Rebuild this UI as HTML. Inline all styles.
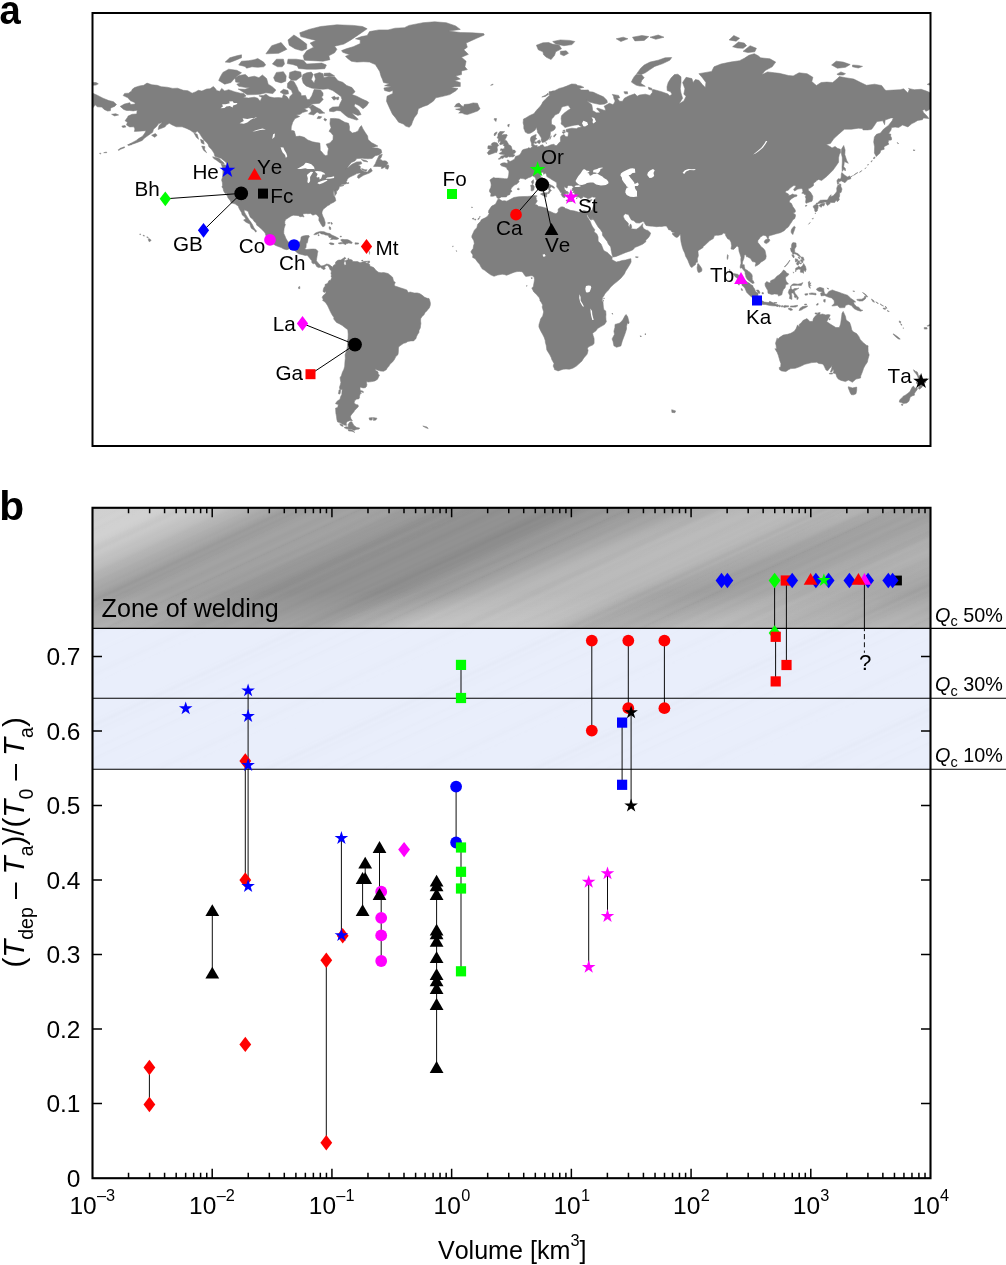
<!DOCTYPE html>
<html><head><meta charset="utf-8"><title>Figure</title>
<style>
html,body{margin:0;padding:0;background:#fff;}
svg{display:block;will-change:transform;}
text{font-family:"Liberation Sans", sans-serif;fill:#000;font-kerning:none;}
</style></head><body>
<svg width="1006" height="1265" viewBox="0 0 1006 1265">
<defs>
<clipPath id="mapclip"><rect x="92.5" y="13" width="838" height="433"/></clipPath>
<clipPath id="grayclip"><rect x="93" y="508" width="837" height="120.4"/></clipPath>
<clipPath id="blueclip"><rect x="93" y="628.4" width="837" height="140.9"/></clipPath>
<linearGradient id="gd" gradientUnits="userSpaceOnUse" x1="93" y1="508" x2="276.0" y2="919.1"><stop offset="0.0000" stop-color="#cfcfcf"/><stop offset="0.0622" stop-color="#d0d0d0"/><stop offset="0.1000" stop-color="#c6c6c6"/><stop offset="0.1289" stop-color="#b8b8b8"/><stop offset="0.1556" stop-color="#a8a8a8"/><stop offset="0.1889" stop-color="#9f9f9f"/><stop offset="0.2222" stop-color="#a0a0a0"/><stop offset="0.2556" stop-color="#a0a0a0"/><stop offset="0.2889" stop-color="#9b9b9b"/><stop offset="0.3556" stop-color="#969696"/><stop offset="0.4333" stop-color="#969696"/><stop offset="0.4778" stop-color="#9a9a9a"/><stop offset="0.5333" stop-color="#9e9e9e"/><stop offset="0.6000" stop-color="#a0a0a0"/><stop offset="0.6556" stop-color="#9e9e9e"/><stop offset="0.7111" stop-color="#9d9d9d"/><stop offset="0.7778" stop-color="#a0a0a0"/><stop offset="0.8556" stop-color="#a4a4a4"/><stop offset="0.9333" stop-color="#a6a6a6"/><stop offset="1.0000" stop-color="#a6a6a6"/></linearGradient>
<pattern id="streak" patternUnits="userSpaceOnUse" width="500" height="113" patternTransform="rotate(-25)"><rect x="0" y="0.0" width="500" height="1.8" fill="#fff" fill-opacity="0.054"/><rect x="0" y="3.3" width="500" height="5.0" fill="#fff" fill-opacity="0.041"/><rect x="0" y="10.8" width="500" height="1.8" fill="#fff" fill-opacity="0.043"/><rect x="0" y="13.1" width="500" height="1.3" fill="#000" fill-opacity="0.021"/><rect x="0" y="16.9" width="500" height="3.5" fill="#000" fill-opacity="0.044"/><rect x="0" y="23.4" width="500" height="1.8" fill="#000" fill-opacity="0.044"/><rect x="0" y="27.2" width="500" height="2.5" fill="#000" fill-opacity="0.016"/><rect x="0" y="30.2" width="500" height="0.8" fill="#fff" fill-opacity="0.024"/><rect x="0" y="32.9" width="500" height="5.0" fill="#fff" fill-opacity="0.036"/><rect x="0" y="39.8" width="500" height="1.0" fill="#000" fill-opacity="0.038"/><rect x="0" y="41.9" width="500" height="0.8" fill="#fff" fill-opacity="0.045"/><rect x="0" y="44.8" width="500" height="1.8" fill="#fff" fill-opacity="0.060"/><rect x="0" y="48.8" width="500" height="1.3" fill="#000" fill-opacity="0.049"/><rect x="0" y="51.2" width="500" height="0.8" fill="#fff" fill-opacity="0.040"/><rect x="0" y="53.4" width="500" height="5.0" fill="#fff" fill-opacity="0.028"/><rect x="0" y="61.2" width="500" height="5.0" fill="#fff" fill-opacity="0.046"/><rect x="0" y="67.1" width="500" height="0.8" fill="#000" fill-opacity="0.036"/><rect x="0" y="69.3" width="500" height="0.8" fill="#fff" fill-opacity="0.040"/><rect x="0" y="72.5" width="500" height="1.3" fill="#fff" fill-opacity="0.030"/><rect x="0" y="75.0" width="500" height="1.8" fill="#fff" fill-opacity="0.049"/><rect x="0" y="77.4" width="500" height="3.5" fill="#fff" fill-opacity="0.020"/><rect x="0" y="82.5" width="500" height="1.8" fill="#000" fill-opacity="0.023"/><rect x="0" y="85.1" width="500" height="2.5" fill="#000" fill-opacity="0.024"/><rect x="0" y="90.0" width="500" height="1.8" fill="#fff" fill-opacity="0.044"/><rect x="0" y="93.2" width="500" height="1.0" fill="#000" fill-opacity="0.015"/><rect x="0" y="95.3" width="500" height="0.8" fill="#fff" fill-opacity="0.024"/><rect x="0" y="99.1" width="500" height="2.5" fill="#fff" fill-opacity="0.044"/><rect x="0" y="102.0" width="500" height="1.0" fill="#fff" fill-opacity="0.025"/><rect x="0" y="103.3" width="500" height="2.5" fill="#fff" fill-opacity="0.030"/><rect x="0" y="107.1" width="500" height="0.8" fill="#000" fill-opacity="0.019"/><rect x="0" y="110.0" width="500" height="0.8" fill="#fff" fill-opacity="0.042"/><rect x="0" y="112.7" width="500" height="1.0" fill="#fff" fill-opacity="0.058"/></pattern>
<filter id="soft" x="0" y="0" width="1" height="1"><feGaussianBlur stdDeviation="0.8"/></filter>
<linearGradient id="gbot" x1="0" y1="0" x2="0" y2="1"><stop offset="0" stop-color="#fff" stop-opacity="0"/><stop offset="0.7" stop-color="#fff" stop-opacity="0"/><stop offset="1" stop-color="#fff" stop-opacity="0.16"/></linearGradient>
<filter id="blur12" x="-0.2" y="-0.5" width="1.4" height="2"><feGaussianBlur stdDeviation="14 8"/></filter>
</defs>

<text transform="translate(-0.4,23.6) scale(0.925,1)" x="0" y="0" font-size="41.3" font-weight="bold">a</text>
<g id="map" clip-path="url(#mapclip)">
<path d="M120.2 106.4L124.4 104.1L129.7 102.7L130.7 104.5L135.3 104.1L134.6 102.5L130.2 100.6L127.9 97.8L123.2 95.6L124.6 93.4L128.6 93.2L131.6 90.9L132.3 89.3L134.6 87.6L139.5 85.9L143.7 85.3L147.0 83.1L151.9 84.8L157.2 85.3L161.2 86.7L167.0 87.2L172.8 88.4L177.5 88.2L183.3 90.3L187.9 90.7L192.1 93.2L195.4 91.9L198.4 90.3L201.9 91.1L206.6 89.0L210.1 88.8L213.3 86.5L214.7 87.8L217.0 90.7L219.8 91.3L221.7 88.4L224.7 90.9L228.7 89.7L234.5 91.7L240.3 93.2L243.8 93.4L246.1 96.0L243.1 97.4L248.5 98.0L254.3 97.2L257.8 98.2L260.1 101.3L262.0 97.4L258.9 95.8L263.6 95.4L265.9 94.2L269.4 96.8L274.1 97.8L278.7 97.6L282.2 98.0L283.4 94.6L286.9 96.6L289.2 99.8L289.9 96.6L292.7 93.8L291.5 90.5L287.3 87.6L287.6 83.3L290.4 80.5L293.9 81.4L295.5 84.2L297.3 87.6L298.5 90.9L300.8 93.0L301.3 95.8L305.5 95.4L307.1 99.4L309.4 99.6L311.8 95.8L313.2 92.1L314.1 89.5L320.6 89.9L323.0 93.0L323.0 95.4L321.6 97.0L323.2 99.4L319.5 103.3L314.8 103.7L311.3 104.1L309.4 102.9L311.8 104.8L308.5 107.5L304.3 108.7L307.8 110.9L302.5 112.6L300.1 114.3L296.2 115.0L299.7 116.5L295.0 118.6L292.7 122.2L291.3 126.8L291.1 130.2L294.3 131.1L295.9 136.6L299.7 136.1L304.3 137.3L307.8 140.0L312.5 141.8L316.4 142.6L319.9 143.1L320.2 147.7L320.2 150.2L322.3 152.4L323.9 154.6L325.7 155.7L327.8 154.9L327.8 152.1L328.5 148.7L327.1 146.1L326.2 144.2L329.9 142.9L333.0 139.6L333.2 135.6L330.9 132.6L329.0 131.3L331.1 127.8L329.9 124.0L330.4 118.6L334.6 118.4L339.2 119.0L342.7 121.1L344.8 122.2L348.6 123.3L349.5 126.8L349.3 130.2L352.3 133.0L355.5 132.3L358.1 130.9L359.7 127.5L361.4 125.6L363.0 128.9L365.1 132.3L367.6 136.0L368.1 139.6L371.4 142.6L374.6 144.2L377.9 146.1L375.3 146.8L371.8 148.0L377.4 148.0L381.1 149.6L381.8 152.7L379.3 154.8L375.1 155.8L372.1 158.5L367.6 158.8L362.5 158.3L356.9 158.6L354.8 161.0L351.3 162.5L349.0 165.5L346.9 168.2L345.8 168.8L348.1 167.6L352.0 164.3L356.7 161.9L361.1 161.8L361.8 163.7L358.3 164.9L360.4 166.4L360.2 168.5L362.1 170.5L364.9 171.7L367.6 172.0L369.5 169.3L370.9 168.2L372.3 171.1L369.3 173.1L366.0 174.3L363.5 175.3L360.7 177.1L358.8 178.4L357.4 177.4L357.9 175.4L361.1 173.1L359.3 173.0L356.7 173.6L355.1 174.6L352.0 176.0L349.0 177.4L347.2 179.4L346.9 180.8L346.2 181.7L347.4 183.1L348.6 182.4L348.7 183.5L346.7 183.6L344.8 184.2L342.0 184.6L339.7 185.7L343.9 185.3L342.7 186.0L339.2 186.5L339.2 188.0L338.1 189.9L337.0 190.9L335.8 189.4L336.7 191.3L336.5 193.5L334.8 195.8L334.6 192.9L333.9 190.2L333.4 192.9L333.9 196.2L334.7 196.4L335.5 199.1L335.8 200.8L333.4 202.4L330.9 203.6L330.0 204.5L327.6 205.7L325.5 207.5L323.2 209.3L322.0 211.9L322.0 213.7L323.0 216.5L324.0 218.4L325.2 222.5L325.0 225.2L324.1 226.5L322.7 226.7L321.3 224.8L320.2 222.8L318.8 220.3L319.0 217.5L317.1 214.9L315.5 214.3L312.9 215.2L310.6 213.4L307.8 213.7L306.2 213.5L303.6 213.7L302.9 214.7L303.6 216.0L304.1 217.0L302.2 216.5L300.1 216.7L298.5 215.7L296.2 215.4L293.2 215.2L290.8 216.2L288.5 217.7L285.7 219.5L284.8 221.5L284.8 223.8L285.4 224.6L284.1 228.2L283.8 231.4L283.8 233.6L285.0 236.1L285.7 238.0L287.3 240.7L288.5 242.2L290.8 242.8L292.2 243.7L295.0 243.1L297.3 242.5L299.0 242.6L300.4 240.9L300.8 239.5L301.1 237.0L302.9 236.1L306.0 235.5L308.8 235.5L309.4 236.6L308.1 238.7L307.8 240.9L307.1 243.3L306.2 242.8L306.2 245.3L306.0 247.6L304.6 249.1L306.7 249.6L309.0 249.2L311.3 249.1L313.6 249.0L316.0 249.3L317.9 251.2L317.4 253.6L317.1 256.0L316.7 258.3L316.4 260.7L318.1 263.0L319.5 264.2L320.2 265.4L321.8 265.9L323.4 265.6L325.3 264.7L326.4 264.0L328.3 264.3L330.2 265.2L331.3 266.2L332.3 267.7L331.1 268.7L330.2 269.6L329.5 268.4L329.0 267.0L327.6 265.6L326.2 265.6L324.6 267.0L325.3 268.9L323.2 269.6L322.0 268.4L320.6 267.3L318.5 267.6L316.7 266.6L315.5 264.3L314.1 263.3L313.4 264.0L311.8 262.6L311.8 260.7L309.9 258.6L308.1 256.2L307.1 255.3L305.3 255.5L302.5 254.7L298.7 253.8L296.9 252.4L293.9 249.8L292.0 248.5L290.1 248.5L286.9 249.7L283.8 249.0L281.1 247.5L279.0 246.8L275.7 245.5L273.6 244.2L270.6 243.3L268.5 241.4L266.4 239.7L265.5 238.3L266.4 237.4L265.9 235.6L265.2 233.1L263.6 231.2L260.6 228.2L258.2 226.2L256.8 225.2L255.9 222.8L254.0 221.3L253.1 219.6L250.3 217.2L248.9 213.9L248.2 211.4L246.1 210.6L244.3 209.8L244.3 211.9L245.7 214.4L247.3 217.0L248.9 219.5L250.8 222.0L252.4 224.5L253.8 227.5L254.7 229.0L256.6 230.9L255.7 232.2L254.5 230.4L251.3 228.2L250.3 225.7L249.9 224.0L247.1 222.8L245.0 221.5L243.6 219.9L245.9 219.0L244.7 217.0L242.2 214.9L241.5 212.4L239.8 209.8L238.9 208.0L238.2 205.9L235.9 204.6L235.7 204.0L233.8 203.6L231.0 202.8L230.5 200.9L228.7 198.8L227.7 197.2L227.5 196.2L226.3 194.6L227.3 194.6L226.6 193.6L225.2 193.5L223.6 190.9L223.1 188.6L221.9 186.9L222.6 185.3L222.4 182.8L221.6 180.1L222.6 176.9L222.9 173.1L222.9 170.5L222.4 167.3L221.2 164.0L224.0 164.8L225.6 164.9L226.6 167.3L226.8 165.2L226.1 162.5L224.7 161.3L222.9 159.8L221.0 158.3L218.2 157.4L214.9 156.2L214.0 153.1L211.4 149.3L208.9 146.8L208.0 144.2L206.6 142.6L204.2 140.3L201.9 137.3L199.6 133.6L197.2 130.9L195.9 132.6L193.5 132.6L190.3 130.2L186.1 128.2L182.1 126.8L176.3 126.8L172.3 125.0L169.3 123.3L166.3 125.0L165.1 126.8L162.8 127.8L158.1 129.5L159.1 125.4L162.3 122.6L158.8 123.6L156.3 126.8L153.5 129.2L152.6 132.3L148.4 135.3L144.2 138.3L142.3 140.4L137.9 142.2L133.2 143.9L128.3 144.8L131.6 142.9L136.3 140.4L138.6 138.6L142.5 136.3L144.9 133.0L146.0 130.7L142.5 130.9L137.9 131.3L134.4 131.4L134.9 128.9L133.9 126.8L129.7 126.9L126.5 125.0L127.4 122.2L125.1 120.8L127.4 117.5L128.1 116.1L132.1 114.3L136.7 113.9L137.2 110.2L133.2 110.9L129.7 110.5L126.5 110.5L123.7 109.4L120.2 106.4ZM409.3 127.3L405.6 126.1L403.3 124.0L398.6 122.2L395.6 117.9L392.3 113.9L390.9 110.9L388.8 106.4L386.5 101.3L387.0 96.2L392.8 93.4L392.8 90.5L389.3 91.7L384.6 90.5L383.9 88.0L388.1 87.2L391.6 86.7L384.6 85.7L389.3 83.8L383.5 82.5L382.3 79.0L381.1 76.4L379.7 71.4L375.3 64.5L369.5 62.1L363.7 61.7L356.7 62.1L351.3 61.2L347.4 58.3L345.5 56.3L349.7 54.8L342.7 52.3L341.6 50.6L346.2 48.8L353.2 46.7L360.2 43.6L360.2 39.9L355.5 38.8L361.4 36.6L367.2 35.5L369.5 31.6L378.8 29.9L388.1 29.9L395.1 28.2L404.4 27.7L409.1 25.4L423.0 22.7L434.7 21.8L446.3 22.7L455.6 25.9L460.3 29.4L448.7 31.1L460.3 32.5L471.9 32.8L483.6 33.6L484.3 35.0L476.6 38.3L470.8 40.9L466.1 43.1L467.3 47.2L463.8 49.8L468.4 54.3L461.5 57.3L466.1 61.2L464.9 66.8L467.3 69.6L461.5 71.0L461.5 74.6L455.6 75.9L460.3 79.0L454.5 80.8L460.3 82.5L460.3 86.5L454.5 86.7L451.0 87.6L458.0 88.6L455.6 90.9L449.8 94.6L441.7 96.6L435.8 97.8L433.5 101.0L427.7 105.0L423.5 106.4L418.4 108.7L417.2 113.9L414.4 117.5L412.6 121.5L411.4 125.0L409.3 127.3ZM368.8 102.5L366.5 106.0L363.0 108.7L359.0 105.6L355.1 103.7L354.1 106.0L358.8 110.2L361.1 114.6L357.9 115.4L353.2 113.5L352.0 113.3L355.5 116.8L358.3 119.3L356.7 120.1L352.0 118.6L347.9 117.2L344.4 114.6L340.4 110.9L336.9 110.5L333.4 111.7L329.5 111.3L329.5 109.0L332.7 107.1L338.8 106.8L340.2 103.3L342.0 99.8L341.1 96.6L336.9 93.4L332.7 90.5L328.1 88.8L323.0 89.3L316.0 88.8L311.3 88.0L306.0 85.9L303.2 82.9L302.0 78.6L302.9 74.6L306.7 72.8L311.3 72.1L313.2 74.6L311.3 79.5L314.1 82.9L315.5 79.0L314.1 74.2L319.5 72.6L323.0 73.7L323.9 77.7L328.8 76.6L334.6 76.8L338.1 80.8L342.7 82.3L346.7 85.5L352.0 87.6L355.1 91.7L352.0 94.6L356.7 96.2L362.1 99.0L366.7 101.0L368.8 102.5ZM238.2 89.0L242.6 91.7L247.3 94.8L254.3 94.6L260.1 94.2L265.9 92.8L272.9 93.6L275.9 90.1L272.2 86.7L268.2 84.2L266.6 78.6L262.4 75.0L258.9 77.7L254.3 76.2L248.5 77.3L245.4 74.4L239.2 75.5L235.0 78.1L235.7 82.1L240.3 82.7L236.8 84.2L238.7 86.3L246.1 87.6L249.6 87.8L245.0 89.3L238.2 89.0ZM218.7 80.5L220.5 76.4L222.9 72.4L228.7 69.2L236.8 70.3L241.5 72.8L238.0 75.5L234.0 79.0L231.0 82.5L224.7 84.2L218.7 80.5ZM238.7 65.0L241.5 61.2L248.5 60.7L254.3 59.7L257.8 58.5L263.6 62.1L265.7 65.0L263.6 66.8L257.8 67.3L252.0 66.8L246.6 68.2L245.0 66.4L238.7 65.0ZM225.2 62.1L229.8 57.8L236.8 55.8L241.5 54.8L241.5 57.8L235.7 60.2L229.8 62.4L225.2 62.1ZM272.4 64.0L276.4 59.2L283.4 59.2L284.5 64.0L282.2 66.8L277.6 66.8L272.4 64.0ZM265.9 53.8L271.7 45.7L281.1 42.5L286.9 49.3L278.7 53.3L265.9 53.8ZM298.5 68.5L306.7 69.2L316.0 69.2L324.8 68.7L326.4 65.0L321.8 63.1L314.8 63.6L306.7 64.0L303.2 60.2L296.2 59.2L288.0 59.2L287.3 63.6L292.7 64.5L297.3 65.9L298.5 68.5ZM304.3 60.2L313.6 60.7L323.0 61.2L329.9 59.7L328.8 55.8L334.6 52.8L336.9 49.3L334.6 46.2L343.9 44.1L350.9 39.9L359.0 34.4L367.2 28.8L362.5 26.5L353.2 25.4L336.9 24.8L320.6 26.5L309.0 29.4L299.7 32.8L300.8 36.6L309.0 38.8L316.0 40.4L310.1 43.1L313.6 47.2L306.7 50.8L303.2 55.8L304.3 60.2ZM302.0 50.8L295.0 48.8L289.2 45.2L288.0 39.9L293.9 35.0L299.7 38.8L306.7 44.1L306.7 48.8L302.0 50.8ZM289.0 77.7L289.7 72.4L295.0 70.8L300.8 72.1L301.5 76.4L296.2 80.3L291.5 80.3L289.0 77.7ZM273.6 77.7L276.4 72.4L283.4 71.7L286.2 75.9L285.7 81.2L281.1 82.9L275.2 81.2L273.6 77.7ZM280.1 92.1L283.4 89.3L288.0 90.5L288.5 93.8L284.5 94.6L280.1 92.1ZM309.0 107.5L312.5 104.8L316.0 107.1L320.6 109.4L323.0 112.0L324.8 113.1L319.5 113.5L317.1 112.0L313.6 115.0L308.5 113.9L311.3 111.3L310.8 109.0L309.0 107.5ZM318.3 116.3L321.8 116.8L320.2 118.6L317.1 118.6L318.3 116.3ZM324.6 118.3L326.9 119.7L325.3 121.1L323.9 119.7L324.6 118.3ZM324.1 73.3L329.9 73.0L334.6 75.9L329.9 76.2L324.1 75.9L324.1 73.3ZM387.9 169.2L385.6 168.6L385.3 166.7L382.8 168.2L381.4 168.5L381.6 166.7L377.7 166.4L373.5 166.4L375.3 163.7L376.5 160.7L378.1 157.4L379.3 155.2L382.3 154.3L381.1 157.7L379.5 159.2L381.1 159.8L382.8 161.0L384.6 160.7L386.5 161.2L388.1 163.1L386.3 165.2L388.4 164.9L388.8 166.6L387.9 169.2ZM361.4 159.5L366.0 160.4L367.9 161.9L363.7 161.3L361.4 159.5ZM361.6 168.5L364.9 169.8L367.2 169.8L366.0 171.2L362.5 170.1L361.6 168.5ZM212.6 156.8L215.9 157.4L219.4 158.6L221.0 160.4L223.3 162.2L224.3 164.0L221.7 163.7L219.4 162.5L216.8 160.4L213.8 158.6L212.6 156.8ZM201.7 146.1L204.9 146.6L204.5 149.3L206.6 152.7L203.5 150.2L201.7 146.1ZM200.5 139.3L203.5 140.6L204.2 144.2L201.4 142.9L200.5 139.3ZM194.0 133.0L197.2 134.3L198.6 139.3L196.3 137.3L194.0 133.0ZM151.6 135.3L155.3 133.6L157.2 135.3L154.7 137.3L151.6 135.3ZM127.6 144.8L130.9 143.7L132.1 144.5L128.6 145.5L127.6 144.8ZM120.4 148.3L124.4 146.8L124.6 147.7L120.9 149.1L120.4 148.3ZM118.1 149.9L120.4 148.3L120.9 149.0L118.6 150.4L118.1 149.9ZM103.7 152.7L106.5 152.0L106.7 152.7L103.7 152.7ZM99.5 153.4L100.9 153.2L100.6 154.1L99.5 153.4ZM111.6 114.3L115.8 113.7L118.6 115.0L114.6 115.9L111.6 114.3ZM121.8 126.1L125.1 125.6L125.8 127.1L122.8 127.5L121.8 126.1ZM313.8 234.7L315.3 233.1L318.3 231.9L320.6 231.4L324.1 231.7L326.9 233.0L329.9 233.6L331.8 235.0L335.3 236.6L337.1 237.5L338.9 238.6L336.9 239.5L333.4 239.3L330.6 239.6L331.8 237.8L329.2 237.5L328.1 235.3L325.3 235.0L323.9 234.2L321.1 233.9L319.9 232.7L317.4 233.9L316.0 234.6L313.8 234.7ZM318.1 234.6L319.2 234.9L319.0 235.7L318.1 235.6L318.1 234.6ZM338.2 243.2L340.6 242.5L343.0 242.7L342.0 241.4L340.6 240.0L342.0 239.3L344.6 239.6L347.2 239.6L348.8 240.1L350.4 240.9L352.3 242.5L351.6 243.6L348.8 243.0L347.2 243.6L346.0 243.8L345.3 244.9L344.4 243.9L342.7 243.6L339.7 243.9L338.2 243.2ZM329.1 243.3L330.4 242.8L332.5 243.1L334.1 243.7L333.9 244.4L331.8 244.7L329.9 244.1L329.1 243.3ZM355.0 242.8L358.7 243.0L358.4 244.1L355.1 244.2L355.0 242.8ZM329.2 226.7L330.4 227.0L330.9 229.2L329.9 229.7L329.2 228.2L329.2 226.7ZM330.9 222.3L332.3 223.0L332.0 224.5L331.3 224.0L330.9 222.3ZM327.7 222.8L330.0 222.6L329.9 223.3L327.8 223.3L327.7 222.8ZM340.1 236.3L341.3 236.1L341.3 236.9L340.2 236.9L340.1 236.3ZM367.4 261.3L369.6 261.0L369.5 262.8L367.4 262.9L368.3 262.1L367.4 261.3ZM367.6 247.8L369.0 247.9L368.3 249.0L367.6 248.6L367.6 247.8ZM368.9 251.6L369.9 251.9L369.7 252.7L369.2 252.4L368.9 251.6ZM368.3 249.8L368.9 250.0L368.8 250.7L368.5 250.6L368.3 249.8ZM369.3 253.4L369.7 253.6L369.6 254.3L369.3 254.1L369.3 253.4ZM361.6 260.5L363.0 260.3L363.0 260.9L361.6 260.9L361.6 260.5ZM330.2 269.6L331.1 268.7L332.3 267.7L331.3 266.2L332.7 267.9L332.8 266.3L334.4 264.7L335.5 264.2L335.6 262.1L337.3 260.6L338.8 260.0L340.9 260.0L342.0 259.2L343.4 258.3L344.7 257.3L345.9 258.2L345.3 259.0L344.0 259.8L344.8 260.8L344.1 262.3L343.9 264.0L344.8 265.3L346.1 264.7L345.9 262.3L345.1 260.8L346.5 260.2L348.1 259.8L347.9 258.6L348.6 257.9L349.0 259.5L350.9 259.6L352.3 260.2L352.7 261.6L355.5 261.6L357.6 261.6L360.0 262.8L361.8 262.3L363.5 261.5L365.5 261.3L367.4 261.4L365.5 262.3L366.0 263.0L368.1 263.3L369.7 264.5L370.0 266.3L371.8 266.7L373.7 267.6L375.3 269.4L376.1 270.5L378.4 272.2L381.1 272.8L383.5 272.5L385.8 272.9L388.1 273.6L389.8 274.9L391.4 276.2L392.6 277.3L393.5 281.0L395.3 282.4L394.4 284.3L394.6 285.9L396.7 286.6L398.8 287.3L400.2 287.8L403.3 288.7L406.8 289.9L407.7 291.5L408.4 292.5L410.2 292.0L414.2 293.0L417.2 292.9L419.6 293.6L421.9 295.0L424.7 297.3L427.2 298.3L429.0 298.5L429.6 299.9L430.4 303.1L430.3 305.2L429.3 307.9L427.9 309.5L426.8 310.9L425.1 312.6L424.0 314.7L421.9 316.8L420.7 318.7L420.6 321.1L420.9 323.5L420.5 325.9L420.3 328.0L419.1 330.2L418.9 332.6L417.7 334.3L416.3 337.0L416.1 338.4L414.0 340.4L413.7 340.9L410.9 340.9L407.9 341.4L405.8 342.8L403.7 343.3L400.0 345.8L398.6 347.1L398.4 349.0L398.4 351.5L398.0 354.6L395.8 356.6L394.4 359.6L392.3 362.2L390.2 363.9L388.6 366.6L387.2 368.0L386.3 369.7L383.6 371.2L380.7 371.1L377.0 369.9L375.4 368.7L375.6 370.3L378.1 372.1L378.1 374.0L379.5 375.0L377.5 379.3L374.9 380.9L371.8 381.6L368.3 382.0L366.7 381.6L366.5 383.1L366.9 384.5L366.5 386.4L365.3 387.7L363.0 387.9L360.2 387.0L360.0 388.9L360.4 390.6L362.3 390.9L363.5 391.7L363.2 392.7L361.6 391.7L360.2 392.6L361.6 393.1L360.1 394.0L359.5 396.5L359.5 397.7L358.6 399.0L356.7 399.1L354.6 400.8L354.1 402.9L356.0 404.6L358.1 404.9L358.3 406.8L356.5 408.5L354.6 410.6L353.9 411.8L352.0 413.9L350.9 415.4L350.4 416.6L350.9 418.5L352.4 420.8L350.2 420.4L347.4 421.6L346.2 422.9L346.5 425.4L344.4 425.1L341.8 423.8L339.7 422.6L337.6 421.9L336.9 419.7L336.5 416.6L336.0 413.6L335.8 410.6L335.5 408.2L337.8 407.3L338.3 404.6L335.5 403.7L336.9 401.4L338.8 400.0L339.9 399.4L340.6 396.8L341.8 394.5L342.0 391.1L342.3 389.6L339.9 389.5L339.5 387.2L340.4 384.5L340.9 382.6L340.2 378.5L340.2 377.2L341.3 376.0L342.3 372.6L343.9 369.2L344.7 366.2L344.9 362.2L345.3 358.2L345.1 354.6L346.5 351.0L347.4 346.8L347.6 342.5L347.2 341.1L348.1 338.4L348.2 334.1L347.8 329.8L345.4 327.9L342.3 325.5L339.2 323.7L336.5 322.4L333.7 319.0L333.9 317.5L331.9 314.6L330.6 312.1L329.5 309.8L328.5 307.6L327.5 305.4L325.5 302.5L323.6 301.1L322.6 300.4L323.2 299.2L322.6 298.2L322.2 297.3L323.2 295.5L324.6 294.3L325.5 293.4L325.9 292.2L325.3 291.5L324.6 292.6L323.0 291.5L323.5 288.7L324.1 287.2L325.2 286.2L325.0 284.5L326.1 284.1L328.0 283.1L328.1 282.2L329.0 280.5L330.6 280.3L332.0 277.3L331.1 276.9L331.4 274.8L331.0 273.6L331.4 271.0L330.2 269.6ZM351.8 421.8L352.6 423.2L353.9 425.4L356.7 427.5L359.7 428.1L359.0 429.1L356.0 429.4L352.5 428.9L349.5 429.1L346.5 428.8L344.1 427.6L346.2 426.7L348.3 427.2L348.1 424.5L350.0 421.9L351.8 421.8ZM348.1 429.6L352.0 429.7L354.8 432.4L352.0 431.2L348.6 430.9L348.1 429.6ZM352.5 429.1L355.3 429.1L355.1 430.2L352.7 430.1L352.5 429.1ZM339.0 389.9L340.5 389.9L340.4 392.3L339.9 394.1L338.4 393.7L338.8 391.7L339.0 389.9ZM336.2 410.0L338.1 409.7L338.1 413.3L336.2 413.9L336.2 410.0ZM339.7 423.8L342.7 424.8L343.2 426.4L340.9 425.7L339.7 423.8ZM373.2 417.6L377.0 418.2L375.8 420.1L373.5 420.4L373.2 417.6ZM369.0 417.9L372.5 417.6L372.1 420.1L369.7 420.1L369.0 417.9ZM298.5 287.1L299.7 286.4L299.9 288.5L298.7 288.7L298.5 287.1ZM148.3 239.8L148.7 238.6L150.2 239.3L151.2 240.4L149.2 241.8L148.3 239.8ZM146.7 236.9L147.7 236.9L148.4 237.5L147.4 237.8L146.7 236.9ZM143.1 235.5L143.8 235.1L144.5 236.1L143.5 236.1L143.1 235.5ZM139.6 234.1L140.5 233.9L140.6 234.6L139.9 234.6L139.6 234.1ZM422.8 426.0L427.0 427.0L428.2 428.6L425.4 427.6L422.8 426.0ZM331.6 97.4L334.6 96.2L336.5 98.6L333.9 100.2L331.6 97.4ZM336.2 97.4L338.8 97.0L338.5 99.4L336.9 99.8L336.2 97.4ZM586.7 211.2L590.2 211.5L591.3 210.8L592.4 209.2L593.0 207.2L594.1 204.4L594.8 202.9L594.7 200.2L595.1 198.8L595.8 197.2L594.4 197.2L593.7 197.2L592.0 196.8L590.4 198.0L587.9 198.8L586.0 197.5L583.0 196.6L582.3 198.0L580.6 198.4L579.2 197.2L577.4 196.7L575.3 196.2L574.8 194.6L574.4 192.4L572.7 192.7L573.9 190.8L573.4 189.9L572.2 189.5L572.5 188.0L573.7 186.9L572.1 186.1L571.8 185.7L568.3 185.4L567.1 186.9L567.4 187.8L566.0 188.0L564.8 186.4L564.1 188.0L565.0 189.9L565.7 190.8L564.6 191.3L566.4 192.1L567.5 192.9L567.4 194.4L566.7 193.6L565.0 193.7L565.5 195.1L565.0 197.5L563.9 197.6L562.5 196.8L561.1 194.3L562.0 192.8L563.9 193.1L560.6 192.5L559.8 191.0L558.5 189.1L556.7 186.8L556.8 184.4L556.7 182.8L554.6 181.2L553.6 180.7L549.8 178.3L546.9 176.6L546.2 174.0L545.1 173.1L543.7 174.4L543.2 172.7L543.5 172.1L540.2 172.8L540.6 174.1L540.7 176.7L542.9 178.0L544.6 181.2L546.9 182.8L549.2 182.8L548.5 183.6L550.7 185.0L553.3 186.2L554.6 187.6L554.2 188.6L553.4 187.9L551.5 186.8L550.1 187.8L549.9 188.9L551.4 190.6L550.0 191.6L549.0 193.6L547.9 193.2L548.4 191.9L549.2 190.8L548.3 188.3L547.1 188.0L545.8 186.2L544.7 185.7L543.0 184.7L540.8 184.0L540.0 183.2L539.0 182.2L537.3 181.4L535.9 179.8L535.5 178.1L534.4 176.7L532.3 175.7L530.6 177.0L528.4 177.7L525.4 179.4L524.0 178.8L522.2 178.6L520.6 178.3L518.7 180.0L518.6 180.8L519.2 181.7L516.5 184.3L514.4 185.0L513.5 186.1L511.4 188.0L510.8 189.5L512.0 191.4L510.3 192.5L509.9 194.4L507.3 195.6L506.4 196.9L503.4 197.0L501.3 197.0L499.0 198.4L498.5 198.8L496.8 197.5L496.6 196.4L495.3 195.6L493.1 196.2L490.6 196.2L491.0 193.5L490.1 192.4L489.4 191.3L489.6 189.8L490.8 187.5L491.2 184.9L490.9 182.8L489.9 180.0L491.9 178.6L493.6 177.4L495.1 178.1L498.3 178.1L502.7 178.4L504.5 178.7L506.8 178.8L507.9 178.3L508.7 175.0L508.9 172.4L508.8 170.7L507.3 169.6L506.4 167.4L504.3 166.7L501.4 165.8L500.6 165.1L500.4 164.0L502.2 163.1L504.5 162.7L506.8 163.3L507.8 163.3L507.8 161.6L507.0 160.1L508.6 160.1L508.9 161.2L510.8 161.3L511.7 160.7L514.1 159.4L515.1 158.0L515.2 156.9L515.8 156.3L517.1 156.0L518.3 155.4L519.6 154.9L520.8 153.2L522.4 150.1L524.1 149.3L527.6 148.5L528.3 147.7L530.4 148.2L531.8 147.1L532.5 147.2L532.1 146.3L531.5 145.6L531.6 143.9L531.1 142.1L530.4 140.3L530.6 138.0L531.5 136.6L534.7 135.0L536.2 134.5L536.1 135.5L535.5 137.3L536.9 138.8L535.2 139.8L534.3 141.9L533.6 143.5L533.5 144.2L535.1 145.6L537.3 145.5L536.9 146.9L539.7 146.3L540.6 145.3L542.9 144.8L543.4 145.8L544.6 147.1L547.6 146.3L551.1 144.7L554.1 144.2L554.9 145.6L556.9 145.5L558.1 143.7L560.6 141.3L560.4 138.6L560.5 137.0L561.7 135.6L564.1 134.5L565.5 136.6L567.6 136.8L568.2 135.3L568.5 132.4L566.2 131.6L566.1 129.5L569.1 128.7L572.0 128.2L576.8 128.7L577.6 127.8L581.8 127.1L578.3 124.7L574.2 125.2L569.6 126.3L564.9 127.5L563.2 125.4L561.1 124.0L561.5 121.3L561.1 118.6L561.5 115.7L564.6 112.8L568.1 110.2L570.6 108.7L568.6 105.8L567.7 105.6L563.2 106.6L561.5 107.5L560.8 109.8L558.8 113.3L555.0 115.0L553.3 117.5L552.0 118.4L551.4 120.8L551.5 124.3L554.8 125.7L555.5 127.5L554.8 129.2L553.3 130.6L550.4 131.8L550.3 134.5L549.6 138.1L547.8 139.8L544.9 141.8L543.6 142.2L542.1 142.4L541.8 141.6L541.1 140.1L541.4 138.1L539.2 134.6L537.6 132.4L537.3 130.2L537.0 129.7L536.4 127.1L535.7 128.9L534.9 130.2L532.5 131.9L530.1 133.3L527.9 133.6L525.2 132.1L524.7 130.4L523.8 128.5L523.8 125.4L523.1 122.9L523.5 119.0L525.8 117.9L529.4 115.7L532.5 114.3L533.8 113.7L534.8 112.4L537.6 109.0L539.9 106.8L541.8 104.1L542.9 101.7L545.0 99.8L547.6 97.0L549.4 95.4L549.0 91.7L553.4 91.3L555.6 90.3L559.2 88.4L562.7 87.6L566.7 86.1L571.6 84.0L575.9 84.2L577.8 85.5L580.9 85.9L583.9 87.4L579.0 88.4L581.4 89.9L584.8 90.1L588.3 89.9L589.5 91.7L593.0 92.1L597.6 94.2L603.4 96.8L606.9 100.2L607.4 102.5L604.6 104.1L600.0 104.5L594.1 103.3L589.5 102.1L586.9 100.4L589.5 102.9L591.8 104.8L592.5 108.8L592.5 110.5L596.5 112.8L600.2 112.8L598.8 110.9L596.5 108.8L597.6 108.1L601.1 109.2L603.9 110.2L605.8 110.3L604.6 107.1L604.1 106.2L609.3 103.3L612.8 104.5L613.9 103.7L615.1 101.0L613.9 98.6L613.5 96.2L612.3 94.4L618.6 95.4L619.7 97.8L617.4 98.6L619.7 101.3L622.5 101.3L624.4 98.2L629.1 95.8L634.9 93.8L637.2 96.2L639.5 95.0L645.3 94.2L650.0 95.4L652.3 92.5L652.3 89.7L653.5 89.5L661.6 91.7L665.1 93.0L667.5 93.8L669.8 95.8L672.1 94.2L670.5 91.7L667.2 90.5L667.0 86.7L668.2 82.5L671.0 78.1L674.4 74.6L677.9 74.2L681.0 76.8L681.0 82.5L680.3 88.8L681.0 93.0L682.6 98.2L679.1 103.7L683.8 101.0L686.1 96.2L683.8 94.2L684.9 88.8L682.6 82.5L686.1 77.3L691.9 78.6L693.1 82.5L695.4 79.5L698.9 80.3L702.4 84.6L705.4 87.6L705.9 82.5L702.4 77.7L698.9 73.7L711.7 71.4L714.0 66.8L721.0 64.0L730.3 62.1L739.6 60.7L744.3 58.3L748.9 55.3L754.3 53.7L758.2 55.8L760.6 57.8L769.9 58.8L775.7 62.1L772.2 66.8L765.2 70.5L761.7 74.6L767.6 71.9L774.5 72.8L779.2 73.3L788.5 75.5L793.2 75.9L799.0 72.8L807.1 73.7L812.9 77.3L811.8 81.6L816.4 85.5L821.1 82.5L826.9 82.1L832.7 82.5L837.4 78.6L839.3 76.6L845.5 77.7L853.7 79.0L860.7 82.5L866.5 85.3L874.6 84.2L881.6 85.5L885.1 90.1L886.3 90.5L893.3 90.1L900.2 89.7L903.7 88.8L907.9 93.0L909.6 88.8L908.4 88.4L914.2 89.7L921.2 89.3L927.0 91.3L930.7 93.0L930.7 108.5L928.2 110.2L925.8 111.3L924.7 109.6L922.4 110.2L923.5 112.4L927.0 116.1L928.9 118.6L923.5 117.9L922.4 119.7L917.7 120.4L914.2 122.6L911.9 123.6L907.9 126.9L902.6 125.0L898.6 127.5L895.1 127.1L891.6 127.5L890.9 130.2L888.6 133.6L890.9 134.3L890.5 136.0L891.6 138.0L891.4 140.0L888.6 140.3L888.1 142.6L888.8 144.2L883.9 146.8L884.2 149.3L880.9 150.2L880.0 153.1L876.3 156.5L874.4 153.1L874.6 146.8L873.7 141.9L874.4 137.0L876.5 134.3L880.5 133.0L883.5 129.2L888.4 125.4L892.1 120.8L893.3 117.9L890.9 117.9L885.1 120.1L884.6 124.7L882.8 120.8L877.0 121.5L872.3 128.5L871.1 129.5L867.7 129.9L863.0 129.9L862.5 128.5L858.3 128.2L851.4 129.2L844.4 129.2L838.6 134.3L833.9 138.6L830.4 143.5L826.2 144.5L830.4 146.8L832.0 148.0L835.1 146.4L837.4 148.3L840.4 149.3L840.6 152.4L839.3 154.6L838.6 157.7L838.6 162.2L835.1 167.3L832.7 170.5L829.2 174.0L826.9 176.3L821.6 180.5L818.5 179.4L816.4 180.8L815.7 181.7L813.6 183.1L813.4 185.7L810.2 188.0L808.5 188.6L808.2 190.2L810.4 192.1L811.6 194.1L812.8 196.2L812.7 198.8L812.0 201.2L809.5 202.0L806.0 203.3L805.6 202.0L806.0 198.8L805.3 196.7L806.2 195.0L804.1 194.3L804.1 193.5L801.8 193.2L802.9 191.6L802.5 189.1L801.1 188.6L797.8 189.1L794.6 191.0L793.6 189.4L795.3 187.2L796.0 186.2L795.0 185.6L793.2 185.8L789.9 188.3L788.3 190.2L785.7 190.9L785.5 192.4L788.5 194.1L788.5 195.4L790.8 195.1L792.6 194.0L794.1 194.7L795.8 194.8L797.1 195.1L796.7 196.3L794.3 197.0L791.6 198.7L789.7 200.4L789.2 202.1L791.5 203.6L792.9 206.7L794.8 209.3L795.3 210.3L795.3 212.1L793.2 213.0L795.5 214.7L795.4 216.5L794.6 218.7L792.9 219.7L791.8 221.8L790.6 223.5L789.9 224.6L788.5 226.7L787.8 227.5L786.4 228.3L784.5 230.4L783.3 231.2L780.4 232.7L777.3 233.6L775.7 233.9L772.2 235.0L769.9 235.6L768.7 236.3L768.5 238.5L767.3 238.5L766.9 236.8L765.5 235.7L763.8 235.3L762.9 235.5L760.1 237.3L759.6 238.5L758.0 240.2L757.7 242.2L759.4 244.3L760.8 246.2L762.1 247.5L763.5 248.6L765.0 250.5L765.8 254.2L766.2 256.2L765.7 258.7L765.2 259.4L763.1 260.9L760.8 262.2L759.9 263.5L758.9 264.2L757.1 265.4L755.3 266.3L755.5 264.2L756.1 263.0L754.8 262.1L752.4 261.6L751.3 259.8L750.2 258.3L747.3 256.8L746.4 256.8L746.4 256.1L745.7 254.8L744.3 255.1L744.2 257.0L743.8 258.8L742.5 262.0L742.4 264.7L744.2 264.7L744.4 266.8L745.0 268.7L745.7 269.6L747.3 270.3L748.5 271.4L749.5 271.9L751.6 273.9L752.3 275.9L752.2 277.6L752.3 279.9L753.2 280.8L754.2 283.1L752.4 283.4L749.5 281.3L748.5 280.6L747.3 279.4L745.9 277.1L745.6 275.2L745.1 273.8L745.1 271.9L744.4 271.1L743.1 269.6L741.7 267.7L740.3 268.2L740.2 266.3L741.0 263.3L740.8 259.5L741.0 257.3L739.9 253.8L739.0 251.2L738.7 247.6L737.8 246.7L737.1 245.7L735.7 247.4L733.6 249.4L731.0 249.0L731.6 245.7L731.0 242.1L729.4 239.5L727.8 238.9L725.7 235.7L725.2 233.6L723.3 233.1L722.2 234.4L719.8 235.0L718.0 235.3L716.6 235.2L714.5 235.5L713.7 237.5L713.3 238.6L711.3 239.7L709.6 240.8L705.4 244.8L703.1 246.6L703.1 247.5L700.5 249.2L698.4 250.5L698.0 251.2L698.1 252.9L698.4 255.7L697.4 258.6L697.4 262.3L696.1 262.3L695.4 264.7L693.4 265.9L692.0 267.6L690.5 266.6L689.0 263.2L687.8 260.1L685.6 256.2L684.7 252.9L683.3 250.3L682.1 246.5L681.0 241.8L680.7 239.2L680.6 236.6L680.3 233.9L679.6 235.0L677.9 237.0L676.8 237.5L675.3 237.0L673.5 235.2L672.0 233.8L673.7 232.9L675.1 232.0L672.9 232.4L671.4 231.4L671.0 230.2L668.6 229.7L667.9 228.2L667.3 227.5L666.5 226.1L664.0 226.1L661.9 226.5L659.3 226.4L656.5 226.7L654.9 226.5L652.6 226.2L649.1 226.0L646.0 225.4L644.6 223.3L644.0 221.8L642.6 221.6L640.7 222.5L639.3 223.1L636.0 222.8L633.9 220.8L631.4 219.9L629.8 217.2L628.4 214.4L627.0 214.2L625.3 213.7L624.5 214.6L623.2 216.0L623.7 217.5L624.6 219.5L626.0 220.8L627.1 222.0L628.4 223.4L628.2 225.5L629.8 227.6L629.6 225.7L630.2 224.3L630.8 224.1L631.6 226.2L631.6 228.0L630.9 228.7L633.7 229.1L636.3 229.2L638.1 228.2L640.2 226.4L641.9 224.8L642.8 223.6L642.6 225.5L642.7 226.7L643.6 228.6L646.0 230.1L647.9 230.4L650.7 233.1L649.7 235.8L647.9 238.3L645.8 240.1L645.8 241.8L642.6 244.2L640.2 245.3L637.4 246.5L635.1 247.3L633.0 249.7L630.2 251.0L625.9 252.4L623.2 253.6L619.7 255.0L616.2 256.4L613.7 256.9L612.6 256.8L612.2 255.3L611.5 251.7L611.1 250.0L610.9 247.9L610.5 246.7L608.3 244.1L607.2 241.4L605.1 238.7L602.6 235.6L602.3 232.4L600.1 229.2L598.1 226.9L596.3 223.9L594.6 221.1L593.0 219.2L592.0 219.5L593.0 215.7L592.3 218.0L591.3 219.9L591.2 220.2L589.7 218.7L588.5 217.1L587.7 215.4L587.3 214.6L586.7 211.2ZM92.3 93.0L97.2 95.2L103.0 98.2L108.8 100.6L113.5 101.7L116.5 104.5L114.6 106.4L110.7 107.9L110.4 110.7L107.6 111.1L104.1 109.4L101.8 107.1L97.2 106.8L95.3 104.8L93.7 106.8L92.3 108.5ZM927.2 84.4L930.7 82.5L930.7 85.3L927.2 84.4ZM92.3 82.5L96.0 82.5L98.3 83.8L96.0 85.1L92.3 85.3ZM498.2 159.0L499.9 158.0L501.0 156.2L503.8 155.5L505.2 154.5L504.1 154.8L502.2 154.3L499.6 154.0L499.2 153.4L502.0 151.8L502.0 150.2L500.4 150.6L500.8 148.8L502.7 149.0L504.4 148.5L504.5 146.9L504.7 146.3L503.1 145.2L504.3 143.7L501.3 144.5L500.0 144.7L499.6 143.5L500.6 142.1L500.1 140.4L498.5 142.6L498.2 140.6L498.7 139.0L497.1 137.8L498.0 136.0L498.0 134.1L499.9 131.6L503.4 131.6L504.4 131.4L504.3 132.1L502.2 133.8L501.7 135.3L503.8 134.6L506.8 134.6L507.3 135.3L506.6 136.5L505.7 138.5L504.7 138.8L505.4 139.3L504.1 140.3L505.7 140.3L506.8 141.1L507.8 142.9L508.2 143.5L508.7 144.8L510.1 145.2L511.3 146.4L511.7 148.0L512.3 149.6L512.0 150.4L512.7 150.1L514.5 150.1L515.6 151.2L515.6 151.7L515.2 152.7L514.5 153.2L513.7 153.8L513.1 154.6L514.8 154.9L514.6 155.7L513.8 156.5L512.1 157.0L511.2 156.7L509.6 157.0L508.5 156.6L507.0 157.4L505.8 157.6L504.6 157.0L503.6 157.4L503.0 158.5L501.8 158.1L499.4 159.3L498.2 159.0ZM494.3 142.3L497.1 142.9L498.2 144.7L498.8 145.5L497.1 146.8L497.3 148.8L497.5 150.1L496.7 152.5L495.2 152.6L492.2 153.7L488.7 154.8L487.2 152.7L488.9 151.2L488.3 151.3L490.6 149.3L487.8 148.7L487.9 146.8L488.2 145.8L491.5 145.8L492.2 144.8L491.0 144.5L492.2 143.1L494.3 142.3ZM454.5 106.8L456.3 104.1L459.1 103.1L461.9 106.0L463.8 106.4L464.2 104.5L469.1 104.1L473.1 102.9L477.5 103.3L478.9 106.8L480.1 108.7L477.7 110.9L476.1 111.5L471.9 113.1L467.3 114.6L464.2 114.1L462.2 113.0L458.7 113.1L460.3 111.8L460.3 110.5L455.6 109.2L460.3 108.5L460.3 107.1L454.5 106.8ZM494.3 118.6L496.6 118.6L495.9 121.5L494.3 119.7L494.3 118.6ZM507.8 124.7L509.4 124.3L508.7 127.1L507.8 126.1L507.8 124.7ZM494.7 133.0L497.1 131.9L496.6 133.6L494.7 136.0L494.0 135.0L494.7 133.0ZM536.4 45.2L542.9 42.8L548.7 42.5L552.2 44.1L559.2 45.2L561.5 48.8L555.7 51.8L554.6 55.3L551.1 59.5L546.4 57.3L543.6 54.8L542.9 51.8L538.3 49.8L536.4 45.2ZM552.7 41.5L560.4 39.9L569.7 40.4L574.8 41.5L572.0 44.6L563.9 45.7L555.7 44.1L552.7 41.5ZM560.4 51.3L566.2 50.8L568.5 53.3L563.9 55.8L560.4 54.3L560.4 51.3ZM616.2 38.8L623.2 37.2L627.9 38.8L620.9 41.5L616.2 38.8ZM632.5 37.2L641.9 35.5L648.8 36.6L644.2 40.4L634.9 40.9L632.5 37.2ZM650.0 37.2L658.2 35.0L664.0 37.2L655.8 39.3L650.0 37.2ZM645.3 86.3L639.5 86.1L636.0 85.1L631.4 82.1L632.5 79.5L634.4 76.4L636.0 74.6L641.4 74.6L644.2 77.7L641.9 80.3L640.7 83.3L645.3 86.3ZM636.7 73.7L638.4 71.4L640.7 68.2L644.2 65.0L650.0 62.1L658.2 60.2L665.1 57.8L671.7 57.5L669.8 60.2L662.8 63.6L654.7 66.4L650.0 69.6L645.3 72.8L641.9 74.2L636.7 73.7ZM648.4 87.2L651.9 88.4L651.9 90.1L648.8 89.3L648.4 87.2ZM623.9 91.7L627.4 91.7L627.7 93.8L624.9 93.8L623.9 91.7ZM732.6 46.7L738.5 42.0L744.3 43.1L746.6 45.7L743.1 48.3L737.3 48.0L732.6 46.7ZM743.1 51.3L750.1 45.7L756.4 48.3L754.8 51.8L747.8 52.6L743.1 51.3ZM729.1 39.9L733.8 35.5L739.6 38.3L736.1 41.2L729.1 39.9ZM831.6 65.0L836.2 61.2L843.2 62.1L850.2 64.5L845.5 67.3L837.4 68.2L831.6 65.0ZM852.5 65.0L858.3 65.4L862.5 66.4L858.3 68.0L852.5 66.8L852.5 65.0ZM836.9 74.2L840.9 71.9L845.5 73.7L843.2 75.0L838.6 75.0L836.9 74.2ZM843.7 145.5L845.1 149.9L844.8 154.6L846.7 160.4L848.3 163.3L844.4 161.6L843.7 166.7L845.5 168.8L845.3 171.0L843.9 169.3L842.2 171.4L842.0 166.7L842.3 162.2L842.3 157.7L841.3 153.1L841.6 149.0L843.7 145.5ZM841.9 172.5L844.4 175.1L847.4 176.9L849.8 175.9L850.9 178.7L847.6 179.8L845.0 182.7L841.1 180.8L839.7 181.7L838.3 181.4L839.0 183.2L837.6 184.2L836.9 180.8L838.2 178.7L840.5 179.1L841.2 177.0L841.3 174.0L841.9 172.5ZM839.5 183.8L840.8 184.2L840.9 186.7L842.0 189.0L841.1 192.4L839.7 192.8L839.6 196.2L838.8 198.0L839.4 199.6L838.3 200.9L837.0 201.7L836.9 200.2L835.5 200.9L834.7 202.5L833.2 202.5L831.1 202.4L830.2 202.3L830.2 203.4L827.5 205.6L826.0 203.6L826.4 202.4L825.1 202.1L823.2 202.7L819.7 203.3L816.2 204.2L816.4 203.1L817.4 203.1L820.3 200.3L823.9 200.0L827.4 200.0L828.1 198.8L829.7 195.9L831.2 194.8L830.6 196.7L833.2 195.8L835.2 193.6L836.5 191.9L836.9 191.0L836.7 188.2L837.4 186.4L838.2 184.6L839.1 185.7L839.5 183.8ZM818.8 205.8L821.1 203.8L823.5 203.2L824.9 203.6L823.8 206.1L822.4 205.4L821.1 207.4L819.9 206.2L818.8 205.8ZM816.3 204.2L818.2 205.0L818.1 206.1L818.1 207.9L817.5 209.6L817.3 210.9L815.6 211.9L814.8 211.2L814.6 209.0L814.1 208.3L813.5 207.6L813.2 206.2L814.0 205.4L815.0 205.0L816.3 204.2ZM853.5 175.4L857.9 172.5L856.0 173.4L853.5 175.4ZM850.0 177.6L852.5 175.6L851.1 177.1L850.0 177.6ZM873.0 158.3L875.1 156.8L874.6 158.6L873.0 158.3ZM805.1 205.8L806.9 205.3L806.8 205.9L805.5 206.2L805.1 205.8ZM808.6 224.3L810.2 222.4L809.5 223.3L808.6 224.3ZM794.4 226.2L795.3 227.0L794.6 229.5L793.5 232.5L792.8 234.6L791.4 232.9L791.1 231.7L791.3 230.0L792.0 228.7L792.9 227.4L794.1 226.5L794.4 226.2ZM769.2 239.0L769.9 240.2L768.7 242.1L766.4 243.6L764.5 242.8L764.3 241.2L765.7 239.6L768.3 239.0L769.2 239.0ZM698.2 263.5L700.5 266.5L701.7 268.4L702.0 270.1L701.4 271.5L699.1 272.6L698.2 272.3L697.4 270.2L697.1 267.7L697.5 265.5L697.6 263.9L698.2 263.5ZM727.5 254.6L728.2 255.5L727.9 258.3L727.4 259.5L727.1 257.9L727.5 254.6ZM729.6 269.4L730.2 270.1L729.8 270.7L729.5 270.1L729.6 269.4ZM635.6 256.7L638.4 256.9L637.7 257.6L635.8 257.5L635.6 256.7ZM540.5 194.0L542.5 192.9L547.7 192.7L546.6 195.1L546.6 197.1L545.0 196.7L542.9 195.4L540.5 194.0ZM530.6 185.4L532.9 184.6L534.3 186.7L533.8 189.9L532.5 190.8L531.1 190.8L531.1 187.2L530.6 185.4ZM531.5 181.4L533.4 179.7L533.7 182.2L532.9 184.2L531.8 183.2L531.5 181.4ZM566.2 200.0L568.5 200.4L572.7 200.7L572.0 201.5L569.0 201.7L566.2 200.8L566.2 200.0ZM586.7 201.3L588.3 200.6L592.0 199.6L590.4 201.5L588.3 202.5L586.9 202.1L586.7 201.3ZM517.0 189.1L518.7 188.2L519.5 188.9L518.6 189.9L517.0 189.1ZM565.0 191.0L567.8 191.7L568.8 193.5L567.4 192.4L565.0 191.0ZM576.0 198.4L577.3 197.6L576.9 198.8L576.0 198.4ZM571.7 190.1L573.4 189.8L573.2 190.8L571.7 190.1ZM537.1 141.3L539.4 140.0L540.8 141.3L539.7 143.5L537.6 142.9L537.1 141.3ZM534.3 141.9L536.4 141.8L536.6 143.2L534.8 143.4L534.3 141.9ZM553.6 136.0L555.7 133.8L556.2 134.3L555.0 136.3L553.9 137.1L553.6 136.0ZM549.7 139.6L551.3 135.8L550.4 138.3L549.7 139.6ZM562.2 131.9L565.0 131.4L565.7 132.1L563.2 133.6L562.2 131.9ZM562.9 130.4L564.8 130.1L564.8 131.1L563.4 131.1L562.9 130.4ZM541.8 97.0L546.0 95.0L547.8 93.2L548.7 94.2L545.3 96.4L541.8 97.0ZM550.6 92.1L553.4 90.7L553.2 92.3L550.8 93.0L550.6 92.1ZM490.6 85.3L493.1 84.0L492.9 84.8L490.6 85.3ZM897.2 142.4L898.6 143.5L897.9 143.7L897.2 142.4ZM913.0 149.9L915.1 150.2L914.0 150.7L913.0 149.9ZM812.2 218.7L813.4 218.2L812.7 219.2L812.2 218.7ZM815.0 213.3L815.6 213.4L815.3 213.9L815.0 213.3ZM859.5 172.3L861.8 170.5L860.7 171.8L859.5 172.3ZM864.9 168.8L866.0 167.6L865.3 168.6L864.9 168.8ZM867.7 165.2L868.3 164.0L868.1 165.2L867.7 165.2ZM870.9 161.9L872.1 160.4L871.6 161.9L870.9 161.9ZM545.7 142.6L546.8 143.1L546.2 143.5L545.7 142.6ZM497.8 199.4L499.2 199.1L502.2 200.9L504.6 200.7L506.8 201.2L510.0 199.6L513.8 197.5L518.6 196.7L523.1 196.6L527.6 196.4L529.5 196.3L534.4 195.4L537.2 196.0L535.5 196.7L536.2 197.8L536.3 199.4L537.3 200.9L536.5 202.3L535.0 204.4L537.1 205.0L538.3 206.3L542.2 207.0L544.8 207.7L546.6 208.3L547.8 210.8L550.1 211.4L553.4 212.9L556.0 213.8L558.1 212.1L558.2 209.0L560.4 207.2L562.0 206.8L564.2 207.3L565.5 208.5L567.4 209.0L570.2 210.3L574.8 211.0L578.9 212.3L581.1 211.4L583.7 210.5L586.7 211.2L587.3 214.6L586.8 215.4L587.5 217.2L588.8 219.1L590.3 221.4L591.3 224.3L592.7 226.9L594.8 229.7L594.1 231.7L596.8 233.9L598.1 236.8L598.1 240.2L598.4 241.4L601.1 244.1L602.7 247.9L603.3 249.8L604.8 251.2L607.4 252.4L608.6 253.8L611.0 256.0L612.3 257.2L611.9 259.3L610.7 259.5L612.2 259.6L612.6 259.9L616.2 262.0L619.7 261.3L622.1 260.5L625.6 260.0L629.1 259.0L630.9 258.7L631.1 262.0L630.0 264.2L627.9 267.7L625.6 271.2L624.4 273.9L620.9 278.2L617.1 281.6L613.9 284.1L610.5 287.2L608.3 290.2L606.7 291.8L604.8 293.9L603.9 295.8L602.7 297.3L602.5 298.2L601.8 300.4L603.0 302.3L603.2 305.1L603.4 307.2L603.9 309.8L605.7 310.9L606.0 314.5L605.8 316.8L606.0 319.9L606.4 321.7L604.4 324.6L600.0 327.1L597.6 328.5L596.0 330.8L592.6 333.2L593.0 335.3L593.7 337.2L594.1 338.7L594.1 343.0L593.7 344.1L592.5 345.1L589.0 346.6L587.4 348.2L588.1 350.4L587.4 353.3L587.0 354.3L586.2 355.3L583.8 358.0L581.8 361.2L580.3 362.6L576.4 366.1L573.2 368.0L571.2 368.7L569.3 369.2L566.0 369.0L563.1 369.2L558.1 370.9L556.4 370.3L554.5 369.6L554.3 368.4L553.2 366.1L554.0 363.5L551.8 359.6L551.2 357.6L549.8 354.8L546.8 349.9L546.3 345.8L545.3 342.1L545.3 340.8L544.1 337.2L542.7 334.5L540.6 330.7L538.9 326.9L539.0 324.4L539.8 322.1L540.6 319.0L542.7 315.9L543.6 312.1L543.5 311.4L542.2 306.9L542.7 305.1L541.3 302.5L539.9 300.4L539.9 299.3L539.1 297.6L537.3 295.5L536.3 294.3L533.8 292.0L531.8 287.9L533.1 287.3L533.5 285.5L533.8 283.8L534.3 281.0L534.5 279.5L534.1 277.0L532.2 275.8L530.8 275.8L527.8 276.2L525.7 276.4L524.1 274.5L523.1 272.7L522.0 271.7L519.4 271.4L517.1 271.6L514.3 272.2L511.0 273.5L506.6 275.3L504.3 274.5L502.2 274.2L497.5 275.1L494.0 276.3L490.6 274.8L486.4 271.7L484.7 270.3L482.4 269.1L480.7 266.6L479.6 264.2L477.5 261.9L476.6 260.7L475.2 258.7L472.6 257.4L472.9 254.9L470.8 251.9L472.4 249.3L473.1 248.8L473.6 245.3L474.3 243.8L473.8 240.7L471.8 237.3L471.9 235.8L474.4 230.2L476.8 227.7L477.7 224.3L480.3 221.6L481.5 219.6L485.7 217.6L487.8 216.0L489.2 213.4L488.5 212.8L488.7 210.6L490.0 208.5L491.7 206.1L493.8 205.1L495.6 204.0L496.8 201.5L497.8 199.4ZM626.1 314.5L627.7 316.8L629.1 322.5L628.4 324.0L627.4 322.8L626.5 326.3L626.5 329.1L625.1 333.6L624.0 336.5L622.3 340.9L620.9 345.9L616.6 347.3L613.9 345.8L613.1 341.7L612.1 338.9L614.5 334.3L613.9 331.2L614.9 327.5L615.0 324.4L619.3 323.2L621.4 321.6L623.0 319.4L623.9 317.8L625.1 315.6L626.1 314.5ZM472.2 218.6L473.9 218.1L473.3 219.4L472.2 218.6ZM474.7 219.1L475.7 219.1L475.7 220.1L474.7 220.0L474.7 219.1ZM477.7 219.2L479.3 217.6L479.1 219.0L478.2 219.4L477.7 219.2ZM479.3 217.0L480.2 216.5L480.1 217.2L479.3 217.0ZM456.1 250.5L456.9 251.2L456.6 251.5L456.1 250.5ZM452.5 246.2L453.4 246.3L452.6 246.7L452.5 246.2ZM531.1 277.7L532.3 277.8L531.8 278.9L531.1 277.7ZM526.6 285.5L527.2 285.7L526.6 286.4L526.6 285.5ZM602.7 299.7L603.7 300.9L603.0 301.4L602.7 299.7ZM603.9 297.8L604.3 298.7L603.8 299.0L603.9 297.8ZM612.2 313.0L612.8 314.2L612.1 314.0L612.2 313.0ZM640.1 335.8L641.4 336.2L640.7 337.0L640.1 335.8ZM645.1 333.6L646.0 334.2L645.1 334.8L645.1 333.6ZM671.7 409.7L675.6 410.9L674.9 412.7L671.9 412.4L671.7 409.7ZM451.3 193.7L453.0 193.9L452.8 194.3L451.4 194.1L451.3 193.7ZM471.3 207.1L472.6 207.4L471.9 207.7L471.3 207.1ZM733.3 273.5L737.6 274.3L739.6 275.9L741.3 277.6L743.8 279.4L745.4 280.6L746.6 281.5L747.7 282.4L749.4 283.1L751.0 284.8L752.9 285.7L753.1 286.9L754.5 288.8L755.7 291.8L758.2 293.2L758.0 294.1L757.9 296.2L757.9 300.0L756.6 299.2L755.0 300.1L753.4 298.5L749.5 295.2L746.6 292.2L745.1 288.6L743.3 286.2L742.2 285.7L741.4 282.4L739.0 281.0L737.8 278.8L735.2 276.7L733.3 274.3L733.3 273.5ZM756.4 290.1L758.5 290.0L759.9 292.2L759.6 293.5L758.0 292.7L756.4 290.1ZM762.0 292.5L763.4 292.7L763.4 293.9L762.0 293.7L762.0 292.5ZM737.5 283.1L738.5 282.9L739.5 285.0L738.7 285.1L737.5 283.1ZM741.0 288.7L742.0 288.7L742.6 290.4L741.7 290.4L741.0 288.7ZM756.6 302.1L758.2 300.1L760.1 300.6L762.7 301.0L764.2 302.0L768.5 302.6L769.7 301.3L771.5 302.1L773.8 303.2L776.4 304.4L777.8 304.5L778.0 306.7L775.7 305.9L772.2 305.8L768.7 305.3L765.2 304.4L762.9 304.5L759.4 303.5L756.6 302.4L756.6 302.1ZM773.8 302.5L776.6 302.5L777.1 303.0L774.1 303.2L773.8 302.5ZM777.9 305.3L779.7 305.2L780.8 306.0L779.7 306.9L778.3 306.0L777.9 305.3ZM781.2 305.9L782.5 305.5L783.2 306.3L781.8 307.2L781.2 305.9ZM783.4 306.0L785.2 305.4L786.9 305.8L788.7 305.8L788.5 306.8L786.2 307.1L783.9 307.5L783.4 306.0ZM790.4 306.0L793.2 305.9L797.4 305.3L797.8 306.0L795.5 307.1L792.0 307.1L790.4 306.8L790.4 306.0ZM788.5 308.3L790.8 308.2L792.7 309.8L790.8 310.5L788.5 309.2L788.5 308.3ZM799.0 310.6L800.1 308.2L802.5 306.6L806.0 306.1L807.8 306.0L806.0 307.4L803.6 308.6L801.3 310.1L799.0 310.6ZM804.6 304.1L806.7 304.1L806.4 304.9L804.6 304.8L804.6 304.1ZM816.4 304.4L818.1 303.2L818.1 304.8L816.7 305.3L816.4 304.4ZM823.7 299.7L825.3 299.4L825.1 302.3L823.7 301.6L823.7 299.7ZM783.7 270.1L785.5 271.2L786.4 272.8L789.0 274.1L787.3 276.2L785.9 276.5L785.5 278.7L786.2 281.3L788.5 284.1L785.9 284.5L785.0 288.0L783.5 289.3L782.5 291.8L781.8 294.8L778.5 296.1L778.0 294.3L774.5 293.9L771.7 294.6L768.0 293.2L767.8 290.6L765.5 286.5L765.2 285.7L765.0 283.6L766.7 281.6L768.5 282.4L770.3 283.1L770.6 280.8L774.5 278.9L776.9 276.2L779.2 274.8L781.6 272.4L783.2 270.3L783.7 270.1ZM802.1 282.9L802.9 282.6L801.3 285.5L797.9 285.2L793.2 285.4L791.3 285.2L791.1 288.5L792.6 289.7L794.6 288.5L797.4 288.6L798.9 288.1L796.0 290.1L794.3 290.8L795.0 293.2L796.9 295.6L797.6 296.6L795.5 297.7L794.3 297.1L794.6 295.8L793.2 292.7L791.3 293.4L791.8 295.7L791.9 299.4L789.4 298.4L789.9 295.7L788.3 292.6L789.2 289.4L790.5 288.4L790.4 286.6L792.7 284.0L794.3 283.8L797.8 284.2L800.8 283.6L802.1 282.9ZM796.9 297.1L798.3 297.3L798.0 299.2L796.9 299.4L796.9 297.1ZM808.3 282.0L809.5 281.3L809.7 283.4L811.1 282.9L809.9 284.3L811.1 285.5L809.5 285.5L810.4 288.3L809.0 287.3L808.5 284.5L808.3 282.0ZM809.2 293.4L811.8 292.9L816.0 293.4L816.0 295.0L812.9 294.4L809.5 294.3L809.2 293.4ZM804.8 293.9L807.6 293.6L807.6 295.0L805.3 295.2L804.8 293.9ZM817.0 288.4L819.9 287.3L823.7 288.4L823.9 291.1L824.8 294.1L826.9 294.2L828.8 291.5L832.3 289.9L835.1 291.1L839.0 292.3L842.0 293.4L845.9 294.7L847.9 295.4L850.9 298.5L853.7 300.3L855.7 302.0L853.7 302.1L854.1 303.9L856.5 306.5L859.0 307.4L860.7 309.8L862.8 310.3L860.7 311.3L857.2 310.2L854.0 308.6L851.4 305.5L848.6 304.4L846.2 305.1L845.3 306.0L844.8 307.6L839.7 307.8L837.2 305.3L834.8 305.8L831.8 306.0L834.4 303.2L834.1 300.4L831.6 298.0L828.1 297.0L824.6 295.5L821.1 295.9L820.6 293.2L823.0 292.0L818.8 291.3L816.4 289.7L817.0 288.4ZM826.9 288.0L828.8 288.7L828.1 289.2L826.9 288.0ZM856.9 299.4L859.5 299.2L861.8 299.2L864.2 297.8L864.6 296.2L866.3 296.4L865.3 299.0L862.5 300.9L859.5 301.1L856.9 300.1L856.9 299.4ZM862.5 292.5L865.3 294.1L867.7 296.6L867.0 297.1L864.6 294.3L862.5 292.5ZM852.8 291.1L854.6 291.1L854.4 291.5L852.8 291.1ZM871.4 299.0L873.7 300.6L874.4 302.3L872.8 301.6L871.4 299.0ZM875.8 301.8L878.4 303.4L877.0 303.2L875.8 301.8ZM880.0 303.9L883.5 306.0L882.1 305.5L880.0 303.9ZM883.2 308.1L885.8 308.3L885.3 309.5L883.2 308.8L883.2 308.1ZM885.3 306.0L887.0 308.3L886.0 308.1L885.3 306.0ZM887.0 310.5L889.3 311.4L888.1 311.4L887.0 310.5ZM899.3 320.9L900.7 321.6L900.5 323.0L899.3 322.3L899.3 320.9ZM900.7 323.7L902.1 324.9L901.2 325.2L900.7 323.7ZM903.0 327.8L903.7 328.0L903.3 328.4L903.0 327.8ZM893.3 333.8L896.3 335.8L899.5 338.2L900.2 339.2L898.4 338.9L895.6 336.7L893.3 334.5L893.3 333.8ZM924.2 327.5L926.8 327.5L927.2 329.0L924.4 329.1L924.2 327.5ZM927.2 325.8L930.3 324.4L930.0 325.4L927.7 326.3L927.2 325.8ZM793.2 242.6L796.0 243.0L796.2 246.5L794.6 249.1L794.8 252.4L797.8 253.6L800.4 256.0L800.4 256.9L798.5 256.0L796.7 254.6L794.8 253.8L792.9 254.3L792.2 252.4L791.1 251.5L790.4 248.1L791.5 248.6L791.6 245.0L792.1 243.3L793.2 242.6ZM791.8 254.8L793.6 254.9L794.3 256.9L793.6 257.9L792.7 256.7L791.8 254.8ZM784.3 266.8L786.2 264.9L788.5 262.1L789.9 260.0L789.2 261.6L787.8 263.8L785.2 266.7L784.3 266.8ZM795.3 258.7L797.8 259.4L797.8 260.9L795.5 262.0L795.3 258.7ZM796.4 263.3L798.3 260.7L799.1 261.2L798.3 265.2L796.9 264.7L796.4 263.3ZM798.6 264.2L800.3 260.1L799.4 263.0L798.6 264.2ZM799.7 263.3L801.3 262.8L801.5 263.6L800.1 264.0L799.7 263.3ZM800.8 259.6L802.5 260.0L803.1 262.3L802.0 262.8L801.1 261.2L800.8 259.6ZM800.8 257.0L803.2 257.2L804.2 260.2L802.9 260.3L802.0 259.3L800.8 257.0ZM798.3 257.0L800.1 257.9L799.7 258.7L798.3 257.9L798.3 257.0ZM803.6 263.5L805.5 266.6L806.2 269.4L805.3 271.7L803.9 270.1L803.4 273.4L802.9 272.4L800.4 272.2L800.6 269.6L798.7 269.1L795.6 270.3L795.7 268.2L797.6 267.3L798.5 266.3L800.6 267.3L801.7 266.6L802.9 265.2L803.6 263.5ZM795.0 270.9L796.2 270.8L796.0 271.5L795.0 270.9ZM792.9 272.3L794.1 272.4L793.6 272.8L792.9 272.3ZM843.2 311.4L845.5 316.4L846.2 320.1L849.7 322.6L850.9 326.1L851.8 330.0L853.2 331.8L856.6 333.6L858.8 336.4L860.2 339.4L862.5 341.9L863.7 343.0L866.3 345.2L868.1 345.8L868.0 347.8L868.1 351.8L869.2 354.9L868.0 359.1L867.4 362.1L864.9 365.8L863.6 368.3L862.5 371.6L860.7 376.1L860.6 378.0L856.0 379.1L852.3 382.3L850.2 380.9L848.3 380.1L845.5 381.6L841.1 380.4L838.3 379.1L836.8 377.0L835.8 373.7L833.0 372.9L833.9 371.1L833.0 369.2L832.0 371.7L830.4 372.0L831.5 369.0L832.3 364.8L831.7 366.2L829.5 368.4L827.8 370.7L826.0 370.1L823.9 365.6L822.6 363.9L818.8 363.5L816.8 362.2L811.8 362.6L804.8 364.3L800.1 366.6L795.3 368.3L790.8 368.6L788.5 369.7L785.9 371.5L781.5 370.9L779.5 369.6L779.2 367.5L780.7 366.9L780.9 363.5L779.9 360.9L779.2 358.4L778.3 355.3L777.2 352.5L774.9 348.7L776.6 349.0L776.1 345.6L775.5 343.3L777.2 337.9L777.6 339.7L779.4 337.6L783.2 335.1L787.6 334.3L790.8 333.3L794.3 331.2L796.0 328.7L797.6 324.9L799.2 327.1L799.2 324.4L801.3 322.8L802.9 320.6L807.0 318.6L809.9 321.6L812.9 321.3L813.2 319.0L814.6 316.8L816.1 315.5L818.3 312.8L820.2 312.6L819.7 314.8L822.3 314.0L825.8 314.9L828.1 314.5L830.2 314.9L829.2 317.3L827.8 319.7L826.7 321.6L829.7 323.7L832.7 325.6L835.8 327.5L839.3 327.5L840.6 324.0L841.1 320.4L841.7 316.0L842.0 313.3L843.2 311.4ZM848.3 386.7L852.5 387.9L856.7 387.1L856.7 390.3L856.0 393.7L853.7 394.8L851.4 394.7L850.2 392.8L849.5 390.9L848.3 388.1L848.3 386.7ZM829.4 373.3L831.8 372.9L833.0 373.6L831.6 374.1L829.4 374.0L829.4 373.3ZM815.0 312.9L817.6 313.0L816.4 314.2L815.0 313.8L815.0 312.9ZM829.0 318.7L830.2 318.7L829.9 319.9L829.0 319.7L829.0 318.7ZM913.5 369.7L915.4 371.3L917.2 371.9L917.9 373.6L918.5 376.2L920.0 375.3L920.8 376.0L921.7 378.4L924.0 379.2L927.1 378.5L925.8 381.2L925.6 382.7L923.3 383.4L923.7 383.8L921.9 387.2L919.6 389.2L918.4 388.4L919.1 386.4L918.9 384.6L916.0 382.9L916.8 382.2L917.9 379.6L918.4 378.8L917.8 376.8L917.0 375.0L915.1 372.6L914.4 371.9L913.5 369.7ZM913.5 386.1L914.9 388.2L917.2 387.5L917.2 389.6L915.8 391.4L914.4 393.4L914.4 395.2L912.6 395.7L910.2 397.1L909.6 399.1L908.9 401.3L906.8 403.0L903.4 403.5L901.4 402.6L899.3 402.1L899.8 399.7L902.1 397.7L903.5 395.9L904.9 395.5L907.7 393.4L910.0 391.6L910.9 389.6L912.1 387.2L913.5 386.1ZM901.4 404.2L903.0 404.3L902.6 405.4L901.6 405.2L901.4 404.2Z" fill="#7f7f7f" stroke="#7f7f7f" stroke-width="0.55" stroke-linejoin="round"/><path d="M579.2 184.7L576.7 182.8L575.5 181.1L576.6 179.1L578.2 176.3L580.5 173.4L583.1 169.6L584.8 169.3L586.7 170.8L588.3 170.8L589.7 171.4L587.2 173.0L589.1 173.4L589.4 175.1L590.2 175.7L591.0 175.4L593.9 173.8L596.5 173.1L593.0 172.3L593.4 169.9L597.2 168.9L598.9 168.0L602.1 167.6L603.0 167.9L600.5 169.1L600.0 171.1L599.0 172.3L598.4 173.1L596.9 173.6L598.3 174.3L599.5 174.9L602.4 176.6L603.9 178.0L606.9 179.7L608.5 182.1L608.3 183.5L605.8 185.1L603.9 185.3L600.9 185.4L596.1 184.4L593.3 182.4L590.1 182.5L586.9 183.1L585.5 184.0L582.0 184.9L579.2 184.7ZM574.4 186.7L575.7 185.4L578.8 185.3L581.1 186.0L579.0 186.9L576.0 187.1L574.4 186.7ZM622.8 172.0L626.7 169.9L630.2 168.5L632.5 168.3L634.9 168.8L635.3 172.8L632.5 173.1L630.2 175.1L628.6 175.1L630.4 177.8L632.5 180.2L634.2 182.5L634.6 183.9L637.9 182.5L638.8 184.4L637.7 186.1L634.9 186.1L634.9 188.0L636.0 189.9L637.0 191.3L637.0 195.4L637.2 196.4L633.7 197.0L630.2 196.8L626.7 195.0L625.3 192.4L625.6 190.2L626.7 187.8L628.6 187.2L626.7 186.4L625.6 184.4L623.9 182.4L622.1 179.7L621.8 177.4L620.4 175.4L620.9 173.4L622.8 172.0ZM647.2 174.9L647.9 172.5L650.0 170.5L653.0 169.1L654.7 170.2L653.5 173.1L654.2 176.0L651.9 177.7L649.5 178.0L647.2 174.9ZM682.6 172.8L684.9 170.2L688.4 169.1L691.9 169.2L695.9 169.1L694.2 170.2L689.6 169.9L686.1 171.4L684.2 174.0L682.6 172.8ZM753.1 154.6L755.5 153.4L758.7 151.2L762.9 147.7L765.9 143.5L767.3 141.1L765.9 140.9L764.5 143.5L761.3 147.7L757.5 150.9L754.1 153.7L753.1 154.6ZM583.4 126.3L585.1 126.4L588.1 124.7L587.2 122.2L583.4 120.8L582.0 123.3L583.4 126.3ZM593.4 123.6L596.0 121.5L594.4 117.9L591.6 117.2L593.0 119.7L592.5 122.2L593.4 123.6ZM585.3 288.7L586.0 285.9L588.3 285.5L590.6 285.7L591.3 287.3L590.6 289.4L589.7 291.8L587.9 292.5L586.0 292.2L585.3 288.7ZM579.5 294.3L580.6 296.9L580.6 300.4L582.7 303.9L584.1 306.7L582.5 306.2L580.2 302.3L579.2 298.0L579.5 294.3ZM590.4 308.6L592.0 310.9L592.3 314.5L593.7 319.9L592.3 319.9L591.1 315.6L590.6 312.1L590.4 308.6ZM542.5 254.8L544.6 254.1L545.7 256.0L543.6 256.9L542.5 254.8ZM297.1 168.9L300.8 168.9L305.3 168.2L307.6 169.1L313.6 168.9L314.6 169.5L314.1 167.0L311.3 164.3L307.8 163.0L305.7 162.8L303.6 165.2L300.1 167.3L297.1 168.9ZM307.4 182.2L308.8 183.2L310.1 181.1L310.1 176.9L311.8 174.3L313.2 172.0L310.8 171.7L308.3 173.7L306.9 175.1L307.8 178.3L307.4 182.2ZM314.8 171.4L317.1 171.1L321.1 171.4L324.3 173.1L325.3 174.6L322.5 174.6L321.3 178.3L319.7 179.4L319.2 177.1L317.4 177.4L316.4 177.0L317.6 174.0L314.8 171.4ZM317.4 183.3L319.5 184.2L323.0 183.1L327.6 180.4L326.4 179.8L322.3 180.7L318.3 182.2L317.4 183.3ZM325.7 178.8L329.9 178.7L334.1 178.1L334.1 176.3L331.1 176.9L327.1 177.6L325.7 178.8ZM285.9 158.0L287.3 156.2L286.2 153.1L284.5 150.2L283.4 147.4L280.6 147.2L281.5 149.9L282.7 152.4L285.0 154.9L285.9 158.0ZM252.4 131.6L256.6 129.9L262.4 128.5L265.9 129.5L260.1 129.9L255.4 131.3L252.4 131.6ZM272.2 139.0L274.5 137.0L275.0 133.6L273.1 134.3L272.2 139.0ZM239.6 123.3L243.8 123.8L247.3 122.6L250.8 119.7L255.4 117.5L257.3 117.2L254.3 118.6L252.0 117.9L247.3 119.0L242.6 118.3L243.8 121.1L239.6 123.3ZM220.5 108.3L224.5 108.1L226.3 106.4L229.8 106.0L232.6 107.5L233.1 105.6L236.4 104.5L237.5 102.9L233.8 103.1L232.6 101.3L229.1 101.5L229.8 103.3L225.6 104.3L222.2 104.3L222.9 106.4L220.5 108.3Z" fill="#fff"/><path d="M593.7 173.8L596.5 173.7L596.7 172.7L593.9 172.7L593.7 173.8Z" fill="#7f7f7f"/>
</g>
<rect x="92.5" y="13" width="838" height="433" fill="none" stroke="#000" stroke-width="2"/>
<g id="mapmarks" font-size="20.7">
<path d="M165.3 198.8L241.2 193.4" stroke="#000" stroke-width="1.0" fill="none" />
<path d="M203.5 230.3L241.2 193.4" stroke="#000" stroke-width="1.0" fill="none" />
<path d="M302.5 323.5L355.0 344.6" stroke="#000" stroke-width="1.0" fill="none" />
<path d="M310.5 374.2L355.0 344.6" stroke="#000" stroke-width="1.0" fill="none" />
<path d="M542.2 184.6L516.0 214.7" stroke="#000" stroke-width="1.0" fill="none" />
<path d="M542.2 184.6L551.5 229.0" stroke="#000" stroke-width="1.0" fill="none" />
<circle cx="241.2" cy="193.4" r="6.9" fill="#000"/>
<circle cx="355.0" cy="344.6" r="6.9" fill="#000"/>
<circle cx="542.2" cy="184.6" r="6.9" fill="#000"/>
<path d="M227.4 162.0L229.3 167.7L235.3 167.7L230.4 171.3L232.3 177.0L227.4 173.5L222.5 177.0L224.4 171.3L219.5 167.7L225.5 167.7Z" fill="#0000ff"/>
<path d="M254.6 167.9L261.5 179.7L247.7 179.7Z" fill="#ff0000"/>
<path d="M165.3 191.4L170.9 198.8L165.3 206.2L159.7 198.8Z" fill="#00ff00"/>
<rect x="258.0" y="188.6" width="10" height="10" fill="#000"/>
<path d="M203.5 222.9L209.1 230.3L203.5 237.7L197.9 230.3Z" fill="#0000ff"/>
<circle cx="270.0" cy="239.9" r="5.85" fill="#ff00ff"/>
<circle cx="294.0" cy="245.0" r="5.85" fill="#0000ff"/>
<path d="M366.5 239.1L372.1 246.5L366.5 253.9L360.9 246.5Z" fill="#ff0000"/>
<rect x="447.0" y="189.0" width="10" height="10" fill="#00ff00"/>
<path d="M302.5 316.1L308.1 323.5L302.5 330.9L296.9 323.5Z" fill="#ff00ff"/>
<rect x="305.5" y="369.2" width="10" height="10" fill="#ff0000"/>
<path d="M537.6 161.3L539.5 167.0L545.5 167.0L540.6 170.6L542.5 176.3L537.6 172.8L532.7 176.3L534.6 170.6L529.7 167.0L535.7 167.0Z" fill="#00ff00"/>
<path d="M570.9 188.9L572.8 194.6L578.8 194.6L573.9 198.2L575.8 203.9L570.9 200.4L566.0 203.9L567.9 198.2L563.0 194.6L569.0 194.6Z" fill="#ff00ff"/>
<circle cx="516.0" cy="214.7" r="5.85" fill="#ff0000"/>
<path d="M551.5 223.1L558.4 234.9L544.6 234.9Z" fill="#000"/>
<path d="M741.0 272.1L747.9 283.9L734.1 283.9Z" fill="#ff00ff"/>
<rect x="752.0" y="295.5" width="10" height="10" fill="#0000ff"/>
<path d="M921.1 373.1L923.0 378.8L929.0 378.8L924.1 382.4L926.0 388.1L921.1 384.6L916.2 388.1L918.1 382.4L913.2 378.8L919.2 378.8Z" fill="#000"/>
<text x="192.4" y="178.9">He</text>
<text x="257" y="174.0">Ye</text>
<text x="134.5" y="196.3">Bh</text>
<text x="270.3" y="203.2">Fc</text>
<text x="173" y="251.0">GB</text>
<text x="238.8" y="253.3">Co</text>
<text x="279" y="270">Ch</text>
<text x="375.5" y="255">Mt</text>
<text x="442.5" y="186">Fo</text>
<text x="272.7" y="331.4">La</text>
<text x="275.5" y="379.7">Ga</text>
<text x="541" y="164.2">Or</text>
<text x="578" y="212.5">St</text>
<text x="496" y="234.6">Ca</text>
<text x="545" y="251.5">Ve</text>
<text x="710" y="282">Tb</text>
<text x="746" y="324">Ka</text>
<text x="887.5" y="382.8">Ta</text>
</g>
<text x="-0.8" y="520" font-size="40.7" font-weight="bold">b</text>
<rect x="93" y="508" width="837" height="120.4" fill="url(#gd)"/>
<g clip-path="url(#grayclip)"><g filter="url(#blur12)"><path d="M345 640L525 640L915 496L735 496Z" fill="#fff" fill-opacity="0.26"/><path d="M640 640L720 640L1110 496L1030 496Z" fill="#fff" fill-opacity="0.15"/><path d="M110 640L280 640L640 496L470 496Z" fill="#000" fill-opacity="0.05"/></g></g>
<rect x="93" y="508" width="837" height="120.4" fill="url(#streak)" filter="url(#soft)"/>
<rect x="93" y="508" width="837" height="120.4" fill="url(#gbot)"/>
<rect x="93" y="628.4" width="837" height="140.9" fill="#e9eefb"/>
<rect x="93" y="628.4" width="837" height="140.9" fill="url(#streak)" opacity="0.4" filter="url(#soft)"/>
<path d="M93 628.4H1006" stroke="#000" stroke-width="1.1" fill="none"/>
<path d="M93 698.3H1006" stroke="#000" stroke-width="1.1" fill="none"/>
<path d="M93 769.3H1006" stroke="#000" stroke-width="1.1" fill="none"/>
<path d="M128.54 1178.2v-5.5M128.54 507.8v5.5M149.62 1178.2v-5.5M149.62 507.8v5.5M164.58 1178.2v-5.5M164.58 507.8v5.5M176.18 1178.2v-5.5M176.18 507.8v5.5M185.66 1178.2v-5.5M185.66 507.8v5.5M193.67 1178.2v-5.5M193.67 507.8v5.5M200.61 1178.2v-5.5M200.61 507.8v5.5M206.74 1178.2v-5.5M206.74 507.8v5.5M212.21 1178.2v-9.5M212.21 507.8v9.5M248.25 1178.2v-5.5M248.25 507.8v5.5M269.33 1178.2v-5.5M269.33 507.8v5.5M284.29 1178.2v-5.5M284.29 507.8v5.5M295.89 1178.2v-5.5M295.89 507.8v5.5M305.37 1178.2v-5.5M305.37 507.8v5.5M313.38 1178.2v-5.5M313.38 507.8v5.5M320.33 1178.2v-5.5M320.33 507.8v5.5M326.45 1178.2v-5.5M326.45 507.8v5.5M331.93 1178.2v-9.5M331.93 507.8v9.5M367.97 1178.2v-5.5M367.97 507.8v5.5M389.05 1178.2v-5.5M389.05 507.8v5.5M404.00 1178.2v-5.5M404.00 507.8v5.5M415.61 1178.2v-5.5M415.61 507.8v5.5M425.08 1178.2v-5.5M425.08 507.8v5.5M433.10 1178.2v-5.5M433.10 507.8v5.5M440.04 1178.2v-5.5M440.04 507.8v5.5M446.17 1178.2v-5.5M446.17 507.8v5.5M451.64 1178.2v-9.5M451.64 507.8v9.5M487.68 1178.2v-5.5M487.68 507.8v5.5M508.76 1178.2v-5.5M508.76 507.8v5.5M523.72 1178.2v-5.5M523.72 507.8v5.5M535.32 1178.2v-5.5M535.32 507.8v5.5M544.80 1178.2v-5.5M544.80 507.8v5.5M552.81 1178.2v-5.5M552.81 507.8v5.5M559.76 1178.2v-5.5M559.76 507.8v5.5M565.88 1178.2v-5.5M565.88 507.8v5.5M571.36 1178.2v-9.5M571.36 507.8v9.5M607.39 1178.2v-5.5M607.39 507.8v5.5M628.48 1178.2v-5.5M628.48 507.8v5.5M643.43 1178.2v-5.5M643.43 507.8v5.5M655.03 1178.2v-5.5M655.03 507.8v5.5M664.51 1178.2v-5.5M664.51 507.8v5.5M672.53 1178.2v-5.5M672.53 507.8v5.5M679.47 1178.2v-5.5M679.47 507.8v5.5M685.59 1178.2v-5.5M685.59 507.8v5.5M691.07 1178.2v-9.5M691.07 507.8v9.5M727.11 1178.2v-5.5M727.11 507.8v5.5M748.19 1178.2v-5.5M748.19 507.8v5.5M763.15 1178.2v-5.5M763.15 507.8v5.5M774.75 1178.2v-5.5M774.75 507.8v5.5M784.23 1178.2v-5.5M784.23 507.8v5.5M792.24 1178.2v-5.5M792.24 507.8v5.5M799.18 1178.2v-5.5M799.18 507.8v5.5M805.31 1178.2v-5.5M805.31 507.8v5.5M810.79 1178.2v-9.5M810.79 507.8v9.5M846.82 1178.2v-5.5M846.82 507.8v5.5M867.90 1178.2v-5.5M867.90 507.8v5.5M882.86 1178.2v-5.5M882.86 507.8v5.5M894.46 1178.2v-5.5M894.46 507.8v5.5M903.94 1178.2v-5.5M903.94 507.8v5.5M911.96 1178.2v-5.5M911.96 507.8v5.5M918.90 1178.2v-5.5M918.90 507.8v5.5M925.02 1178.2v-5.5M925.02 507.8v5.5M92.5 1103.51h9.5M930.5 1103.51h-9.5M92.5 1029.02h9.5M930.5 1029.02h-9.5M92.5 954.53h9.5M930.5 954.53h-9.5M92.5 880.04h9.5M930.5 880.04h-9.5M92.5 805.55h9.5M930.5 805.55h-9.5M92.5 731.06h9.5M930.5 731.06h-9.5M92.5 656.57h9.5M930.5 656.57h-9.5" stroke="#000" stroke-width="1.5" fill="none"/>
<rect x="92.5" y="507.8" width="838.0" height="670.4000000000001" fill="none" stroke="#000" stroke-width="2.1"/>
<text x="101.6" y="616.8" font-size="25.1">Zone of welding</text>
<g font-size="24.5" text-anchor="end">
<text x="80.5" y="1186.8">0</text>
<text x="80.5" y="1112.3">0.1</text>
<text x="80.5" y="1037.8">0.2</text>
<text x="80.5" y="963.3">0.3</text>
<text x="80.5" y="888.8">0.4</text>
<text x="80.5" y="814.3">0.5</text>
<text x="80.5" y="739.9">0.6</text>
<text x="80.5" y="665.4">0.7</text>
</g>
<g font-size="24.5">
<text x="69.4" y="1214">10<tspan font-size="16.3" dx="0.3" dy="-12.7">–3</tspan></text>
<text x="189.1" y="1214">10<tspan font-size="16.3" dx="0.3" dy="-12.7">–2</tspan></text>
<text x="308.8" y="1214">10<tspan font-size="16.3" dx="0.3" dy="-12.7">–1</tspan></text>
<text x="433.6" y="1214">10<tspan font-size="16.3" dx="0.3" dy="-12.7">0</tspan></text>
<text x="553.4" y="1214">10<tspan font-size="16.3" dx="0.3" dy="-12.7">1</tspan></text>
<text x="673.1" y="1214">10<tspan font-size="16.3" dx="0.3" dy="-12.7">2</tspan></text>
<text x="792.8" y="1214">10<tspan font-size="16.3" dx="0.3" dy="-12.7">3</tspan></text>
<text x="912.5" y="1214">10<tspan font-size="16.3" dx="0.3" dy="-12.7">4</tspan></text>
</g>
<text x="437.9" y="1259" font-size="25.1">Volume [km<tspan font-size="16.3" dy="-12.7">3</tspan><tspan dy="12.7">]</tspan></text>
<g transform="translate(24,967.6) rotate(-90)"><text x="0" y="0" font-size="29.5">(<tspan font-style="italic">T</tspan><tspan font-size="19.5" dy="9.1">dep</tspan><tspan dy="-9.1"> – </tspan><tspan font-style="italic">T</tspan><tspan font-size="19.5" dy="9.1">a</tspan><tspan dy="-9.1">)/(</tspan><tspan font-style="italic">T</tspan><tspan font-size="19.5" dy="9.1">0</tspan><tspan dy="-9.1"> – </tspan><tspan font-style="italic">T</tspan><tspan font-size="19.5" dy="9.1">a</tspan><tspan dy="-9.1">)</tspan></text></g>
<text x="935" y="621.6" font-size="19.8"><tspan font-style="italic">Q</tspan><tspan font-size="14.5" dy="4.7">c</tspan><tspan dy="-4.7"> 50%</tspan></text>
<text x="935" y="691.4" font-size="19.8"><tspan font-style="italic">Q</tspan><tspan font-size="14.5" dy="4.7">c</tspan><tspan dy="-4.7"> 30%</tspan></text>
<text x="935" y="762.3" font-size="19.8"><tspan font-style="italic">Q</tspan><tspan font-size="14.5" dy="4.7">c</tspan><tspan dy="-4.7"> 10%</tspan></text>
<g id="dlines"><path d="M774.6 580.5L774.6 633.0" stroke="#000" stroke-width="0.95" fill="none" /><path d="M775.6 636.7L775.6 681.4" stroke="#000" stroke-width="0.95" fill="none" /><path d="M786.4 580.5L786.4 665.0" stroke="#000" stroke-width="0.95" fill="none" /><path d="M864.4 580.5L864.4 628.4" stroke="#000" stroke-width="0.95" fill="none" /><path d="M864.4 628.4V631.2M864.4 634V639.2M864.4 642.3V647.2M864.4 650.6V652.8" stroke="#000" stroke-width="0.95" fill="none"/><path d="M591.8 640.6L591.8 730.6" stroke="#000" stroke-width="0.95" fill="none" /><path d="M628.3 640.6L628.3 708.2" stroke="#000" stroke-width="0.95" fill="none" /><path d="M664.4 640.6L664.4 708.2" stroke="#000" stroke-width="0.95" fill="none" /><path d="M622.1 722.6L622.1 784.8" stroke="#000" stroke-width="0.95" fill="none" /><path d="M631.1 712.7L631.1 805.9" stroke="#000" stroke-width="0.95" fill="none" /><path d="M461.0 664.9L461.0 698.0" stroke="#000" stroke-width="0.95" fill="none" /><path d="M461.0 847.5L461.0 971.3" stroke="#000" stroke-width="0.95" fill="none" /><path d="M456.1 786.6L456.1 842.5" stroke="#000" stroke-width="0.95" fill="none" /><path d="M248.1 690.8L248.1 886.5" stroke="#000" stroke-width="0.95" fill="none" /><path d="M341.4 838.4L341.4 935.6" stroke="#000" stroke-width="0.95" fill="none" /><path d="M245.3 760.9L245.3 880.0" stroke="#000" stroke-width="0.95" fill="none" /><path d="M149.4 1067.5L149.4 1104.5" stroke="#000" stroke-width="0.95" fill="none" /><path d="M326.3 960.3L326.3 1142.8" stroke="#000" stroke-width="0.95" fill="none" /><path d="M212.3 910.1L212.3 972.7" stroke="#000" stroke-width="0.95" fill="none" /><path d="M362.6 878.0L362.6 910.1" stroke="#000" stroke-width="0.95" fill="none" /><path d="M365.2 862.6L365.2 878.0" stroke="#000" stroke-width="0.95" fill="none" /><path d="M379.5 847.0L379.5 894.0" stroke="#000" stroke-width="0.95" fill="none" /><path d="M436.6 880.6L436.6 1067.0" stroke="#000" stroke-width="0.95" fill="none" /><path d="M381.2 891.7L381.2 961.0" stroke="#000" stroke-width="0.95" fill="none" /><path d="M588.7 882.2L588.7 967.3" stroke="#000" stroke-width="0.95" fill="none" /><path d="M607.5 873.7L607.5 916.4" stroke="#000" stroke-width="0.95" fill="none" /></g>
<g id="dmarks"><path d="M774.6 572.8L780.5 580.5L774.6 588.2L768.7 580.5Z" fill="#00ff00"/><path d="M774.6 625.3L780.5 633.0L774.6 640.7L768.7 633.0Z" fill="#00ff00"/><rect x="780.7" y="575.4" width="10.2" height="10.2" fill="#ff0000"/><rect x="770.6" y="631.7" width="10.2" height="10.2" fill="#ff0000"/><rect x="770.6" y="676.3" width="10.2" height="10.2" fill="#ff0000"/><rect x="781.4" y="659.9" width="10.2" height="10.2" fill="#ff0000"/><rect x="892.1" y="575.6" width="9.8" height="9.8" fill="#000"/><path d="M721.5 572.8L727.4 580.5L721.5 588.2L715.6 580.5Z" fill="#0000ff"/><path d="M727.4 572.8L733.3 580.5L727.4 588.2L721.5 580.5Z" fill="#0000ff"/><path d="M792.2 572.8L798.1 580.5L792.2 588.2L786.3 580.5Z" fill="#0000ff"/><path d="M815.9 572.8L821.8 580.5L815.9 588.2L810.0 580.5Z" fill="#0000ff"/><path d="M828.6 572.8L834.5 580.5L828.6 588.2L822.7 580.5Z" fill="#0000ff"/><path d="M849.4 572.8L855.3 580.5L849.4 588.2L843.5 580.5Z" fill="#0000ff"/><path d="M868.1 572.8L874.0 580.5L868.1 588.2L862.2 580.5Z" fill="#0000ff"/><path d="M888.3 572.8L894.2 580.5L888.3 588.2L882.4 580.5Z" fill="#0000ff"/><path d="M892.6 572.8L898.5 580.5L892.6 588.2L886.7 580.5Z" fill="#0000ff"/><path d="M864.4 573.0L871.3 584.8L857.5 584.8Z" fill="#ff00ff"/><path d="M810.6 573.0L817.5 584.8L803.7 584.8Z" fill="#ff0000"/><path d="M858.4 573.0L865.3 584.8L851.5 584.8Z" fill="#ff0000"/><path d="M823.9 573.2L825.5 578.1L830.7 578.1L826.5 581.1L828.1 586.0L823.9 583.0L819.7 586.0L821.3 581.1L817.1 578.1L822.3 578.1Z" fill="#00ff00"/><circle cx="591.8" cy="640.6" r="5.9" fill="#ff0000"/><circle cx="591.8" cy="730.6" r="5.9" fill="#ff0000"/><circle cx="628.3" cy="640.6" r="5.9" fill="#ff0000"/><circle cx="628.3" cy="708.2" r="5.9" fill="#ff0000"/><circle cx="664.4" cy="640.6" r="5.9" fill="#ff0000"/><circle cx="664.4" cy="708.2" r="5.9" fill="#ff0000"/><rect x="617.0" y="717.5" width="10.2" height="10.2" fill="#0000ff"/><rect x="617.0" y="779.7" width="10.2" height="10.2" fill="#0000ff"/><path d="M631.1 705.4L632.7 710.3L637.9 710.3L633.7 713.3L635.3 718.2L631.1 715.2L626.9 718.2L628.5 713.3L624.3 710.3L629.5 710.3Z" fill="#000"/><path d="M631.1 798.6L632.7 803.5L637.9 803.5L633.7 806.5L635.3 811.4L631.1 808.4L626.9 811.4L628.5 806.5L624.3 803.5L629.5 803.5Z" fill="#000"/><circle cx="456.1" cy="786.6" r="5.9" fill="#0000ff"/><circle cx="456.1" cy="842.5" r="5.9" fill="#0000ff"/><rect x="455.9" y="659.8" width="10.2" height="10.2" fill="#00ff00"/><rect x="455.9" y="692.9" width="10.2" height="10.2" fill="#00ff00"/><rect x="455.9" y="842.4" width="10.2" height="10.2" fill="#00ff00"/><rect x="455.9" y="866.7" width="10.2" height="10.2" fill="#00ff00"/><rect x="455.9" y="883.4" width="10.2" height="10.2" fill="#00ff00"/><rect x="455.9" y="966.2" width="10.2" height="10.2" fill="#00ff00"/><path d="M245.3 753.2L251.2 760.9L245.3 768.6L239.4 760.9Z" fill="#ff0000"/><path d="M245.3 872.3L251.2 880.0L245.3 887.7L239.4 880.0Z" fill="#ff0000"/><path d="M245.3 1036.7L251.2 1044.4L245.3 1052.1L239.4 1044.4Z" fill="#ff0000"/><path d="M149.4 1059.8L155.3 1067.5L149.4 1075.2L143.5 1067.5Z" fill="#ff0000"/><path d="M149.4 1096.8L155.3 1104.5L149.4 1112.2L143.5 1104.5Z" fill="#ff0000"/><path d="M326.3 952.6L332.2 960.3L326.3 968.0L320.4 960.3Z" fill="#ff0000"/><path d="M326.3 1135.1L332.2 1142.8L326.3 1150.5L320.4 1142.8Z" fill="#ff0000"/><path d="M342.7 928.0L348.6 935.7L342.7 943.4L336.8 935.7Z" fill="#ff0000"/><path d="M185.7 701.4L187.3 706.3L192.5 706.3L188.3 709.3L189.9 714.2L185.7 711.2L181.5 714.2L183.1 709.3L178.9 706.3L184.1 706.3Z" fill="#0000ff"/><path d="M248.1 683.5L249.7 688.4L254.9 688.4L250.7 691.4L252.3 696.3L248.1 693.3L243.9 696.3L245.5 691.4L241.3 688.4L246.5 688.4Z" fill="#0000ff"/><path d="M248.1 709.1L249.7 714.0L254.9 714.0L250.7 717.0L252.3 721.9L248.1 718.9L243.9 721.9L245.5 717.0L241.3 714.0L246.5 714.0Z" fill="#0000ff"/><path d="M248.1 758.1L249.7 763.0L254.9 763.0L250.7 766.0L252.3 770.9L248.1 767.9L243.9 770.9L245.5 766.0L241.3 763.0L246.5 763.0Z" fill="#0000ff"/><path d="M248.1 879.2L249.7 884.1L254.9 884.1L250.7 887.1L252.3 892.0L248.1 889.0L243.9 892.0L245.5 887.1L241.3 884.1L246.5 884.1Z" fill="#0000ff"/><path d="M341.4 831.1L343.0 836.0L348.2 836.0L344.0 839.0L345.6 843.9L341.4 840.9L337.2 843.9L338.8 839.0L334.6 836.0L339.8 836.0Z" fill="#0000ff"/><path d="M341.4 928.3L343.0 933.2L348.2 933.2L344.0 936.2L345.6 941.1L341.4 938.1L337.2 941.1L338.8 936.2L334.6 933.2L339.8 933.2Z" fill="#0000ff"/><circle cx="381.2" cy="891.7" r="5.9" fill="#ff00ff"/><circle cx="381.2" cy="917.8" r="5.9" fill="#ff00ff"/><circle cx="381.2" cy="935.4" r="5.9" fill="#ff00ff"/><circle cx="381.2" cy="961.0" r="5.9" fill="#ff00ff"/><path d="M404.1 841.9L410.0 849.6L404.1 857.3L398.2 849.6Z" fill="#ff00ff"/><path d="M212.3 904.2L219.2 916.0L205.4 916.0Z" fill="#000"/><path d="M212.3 966.8L219.2 978.6L205.4 978.6Z" fill="#000"/><path d="M362.6 872.1L369.5 883.9L355.7 883.9Z" fill="#000"/><path d="M362.6 904.2L369.5 916.0L355.7 916.0Z" fill="#000"/><path d="M365.2 856.7L372.1 868.5L358.3 868.5Z" fill="#000"/><path d="M365.2 872.1L372.1 883.9L358.3 883.9Z" fill="#000"/><path d="M379.5 841.1L386.4 852.9L372.6 852.9Z" fill="#000"/><path d="M379.5 888.1L386.4 899.9L372.6 899.9Z" fill="#000"/><path d="M436.6 874.7L443.5 886.5L429.7 886.5Z" fill="#000"/><path d="M436.6 879.4L443.5 891.2L429.7 891.2Z" fill="#000"/><path d="M436.6 888.1L443.5 899.9L429.7 899.9Z" fill="#000"/><path d="M436.6 923.7L443.5 935.5L429.7 935.5Z" fill="#000"/><path d="M436.6 927.4L443.5 939.2L429.7 939.2Z" fill="#000"/><path d="M436.6 934.9L443.5 946.7L429.7 946.7Z" fill="#000"/><path d="M436.6 951.3L443.5 963.1L429.7 963.1Z" fill="#000"/><path d="M436.6 968.3L443.5 980.1L429.7 980.1Z" fill="#000"/><path d="M436.6 974.5L443.5 986.3L429.7 986.3Z" fill="#000"/><path d="M436.6 982.2L443.5 994.0L429.7 994.0Z" fill="#000"/><path d="M436.6 998.1L443.5 1009.9L429.7 1009.9Z" fill="#000"/><path d="M436.6 1061.1L443.5 1072.9L429.7 1072.9Z" fill="#000"/><path d="M588.7 874.9L590.3 879.8L595.5 879.8L591.3 882.8L592.9 887.7L588.7 884.7L584.5 887.7L586.1 882.8L581.9 879.8L587.1 879.8Z" fill="#ff00ff"/><path d="M588.7 960.0L590.3 964.9L595.5 964.9L591.3 967.9L592.9 972.8L588.7 969.8L584.5 972.8L586.1 967.9L581.9 964.9L587.1 964.9Z" fill="#ff00ff"/><path d="M607.5 866.4L609.1 871.3L614.3 871.3L610.1 874.3L611.7 879.2L607.5 876.2L603.3 879.2L604.9 874.3L600.7 871.3L605.9 871.3Z" fill="#ff00ff"/><path d="M607.5 909.1L609.1 914.0L614.3 914.0L610.1 917.0L611.7 921.9L607.5 918.9L603.3 921.9L604.9 917.0L600.7 914.0L605.9 914.0Z" fill="#ff00ff"/></g>
<text x="859.1" y="670.2" font-size="22.3">?</text>
</svg></body></html>
